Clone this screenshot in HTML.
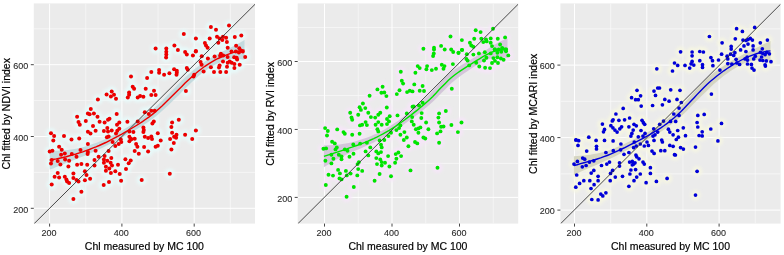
<!DOCTYPE html><html><head><meta charset="utf-8"><title>Chl fitted vs measured</title>
<style>html,body{margin:0;padding:0;background:#fff}svg{display:block}text{font-family:"Liberation Sans",sans-serif;fill:#000}.tk{font-size:9px;fill:#2a2a2a;stroke:#2a2a2a;stroke-width:0.1px}.ti{font-size:10.5px;stroke:#000;stroke-width:0.18px}</style></head><body>
<svg width="784" height="255" viewBox="0 0 784 255">
<rect width="784" height="255" fill="#fff"/>
<defs><filter id="bl" x="-5%" y="-5%" width="110%" height="110%"><feGaussianBlur stdDeviation="1.6"/></filter></defs>
<clipPath id="c0"><rect x="33.8" y="3.4" width="221.2" height="220.2"/></clipPath>
<rect x="33.8" y="3.4" width="221.2" height="220.2" fill="#ebebeb"/>
<g clip-path="url(#c0)">
<path d="M85.75 3.4V223.6M33.8 172.40H255.0" stroke="#f9f9f9" stroke-width="0.7" fill="none"/>
<path d="M158.05 3.4V223.6M33.8 100.60H255.0" stroke="#f9f9f9" stroke-width="0.7" fill="none"/>
<path d="M230.35 3.4V223.6M33.8 28.80H255.0" stroke="#f9f9f9" stroke-width="0.7" fill="none"/>
<path d="M49.60 3.4V223.6M33.8 208.30H255.0" stroke="#fff" stroke-width="1" fill="none"/>
<path d="M121.90 3.4V223.6M33.8 136.50H255.0" stroke="#fff" stroke-width="1" fill="none"/>
<path d="M194.20 3.4V223.6M33.8 64.70H255.0" stroke="#fff" stroke-width="1" fill="none"/>
<g filter="url(#bl)" fill="#e8fbfb" fill-opacity="0.9">
<circle cx="210.9" cy="27.0" r="5.2"/>
<circle cx="229.0" cy="25.4" r="5.2"/>
<circle cx="216.0" cy="29.8" r="5.2"/>
<circle cx="183.8" cy="34.1" r="5.2"/>
<circle cx="195.9" cy="38.5" r="5.2"/>
<circle cx="209.7" cy="38.5" r="5.2"/>
<circle cx="217.0" cy="36.8" r="5.2"/>
<circle cx="219.6" cy="38.4" r="5.2"/>
<circle cx="223.0" cy="36.8" r="5.2"/>
<circle cx="222.3" cy="40.1" r="5.2"/>
<circle cx="226.1" cy="37.8" r="5.2"/>
<circle cx="234.8" cy="37.0" r="5.2"/>
<circle cx="241.3" cy="35.4" r="5.2"/>
<circle cx="218.3" cy="42.8" r="5.2"/>
<circle cx="226.9" cy="42.1" r="5.2"/>
<circle cx="204.9" cy="43.0" r="5.2"/>
<circle cx="206.0" cy="45.5" r="5.2"/>
<circle cx="207.6" cy="47.7" r="5.2"/>
<circle cx="174.4" cy="45.6" r="5.2"/>
<circle cx="155.6" cy="48.5" r="5.2"/>
<circle cx="166.3" cy="48.5" r="5.2"/>
<circle cx="177.9" cy="49.9" r="5.2"/>
<circle cx="227.7" cy="47.7" r="5.2"/>
<circle cx="236.1" cy="45.7" r="5.2"/>
<circle cx="166.3" cy="51.8" r="5.2"/>
<circle cx="166.3" cy="54.4" r="5.2"/>
<circle cx="166.1" cy="57.4" r="5.2"/>
<circle cx="185.1" cy="52.0" r="5.2"/>
<circle cx="186.8" cy="54.4" r="5.2"/>
<circle cx="195.9" cy="51.0" r="5.2"/>
<circle cx="192.9" cy="55.4" r="5.2"/>
<circle cx="200.6" cy="62.1" r="5.2"/>
<circle cx="201.6" cy="64.7" r="5.2"/>
<circle cx="223.0" cy="61.4" r="5.2"/>
<circle cx="237.1" cy="59.4" r="5.2"/>
<circle cx="229.7" cy="61.4" r="5.2"/>
<circle cx="231.7" cy="62.7" r="5.2"/>
<circle cx="234.4" cy="64.1" r="5.2"/>
<circle cx="227.7" cy="62.7" r="5.2"/>
<circle cx="219.6" cy="65.4" r="5.2"/>
<circle cx="219.0" cy="67.4" r="5.2"/>
<circle cx="210.9" cy="67.2" r="5.2"/>
<circle cx="227.0" cy="66.8" r="5.2"/>
<circle cx="234.4" cy="68.1" r="5.2"/>
<circle cx="239.7" cy="64.7" r="5.2"/>
<circle cx="203.6" cy="71.4" r="5.2"/>
<circle cx="214.0" cy="72.1" r="5.2"/>
<circle cx="220.3" cy="72.1" r="5.2"/>
<circle cx="226.1" cy="72.1" r="5.2"/>
<circle cx="186.8" cy="68.1" r="5.2"/>
<circle cx="187.8" cy="69.7" r="5.2"/>
<circle cx="174.1" cy="69.2" r="5.2"/>
<circle cx="176.8" cy="70.8" r="5.2"/>
<circle cx="176.8" cy="72.8" r="5.2"/>
<circle cx="176.5" cy="74.8" r="5.2"/>
<circle cx="159.1" cy="70.1" r="5.2"/>
<circle cx="159.1" cy="72.8" r="5.2"/>
<circle cx="151.3" cy="72.1" r="5.2"/>
<circle cx="164.1" cy="74.8" r="5.2"/>
<circle cx="169.4" cy="73.2" r="5.2"/>
<circle cx="194.2" cy="74.8" r="5.2"/>
<circle cx="193.5" cy="76.4" r="5.2"/>
<circle cx="195.8" cy="51.5" r="5.2"/>
<circle cx="201.7" cy="56.2" r="5.2"/>
<circle cx="239.3" cy="48.3" r="5.2"/>
<circle cx="231.5" cy="51.5" r="5.2"/>
<circle cx="235.8" cy="51.5" r="5.2"/>
<circle cx="238.9" cy="52.6" r="5.2"/>
<circle cx="242.8" cy="51.5" r="5.2"/>
<circle cx="241.3" cy="50.7" r="5.2"/>
<circle cx="220.9" cy="53.8" r="5.2"/>
<circle cx="220.1" cy="55.8" r="5.2"/>
<circle cx="223.2" cy="55.4" r="5.2"/>
<circle cx="214.6" cy="56.5" r="5.2"/>
<circle cx="207.9" cy="58.5" r="5.2"/>
<circle cx="227.6" cy="56.9" r="5.2"/>
<circle cx="234.2" cy="57.3" r="5.2"/>
<circle cx="236.6" cy="57.7" r="5.2"/>
<circle cx="245.2" cy="56.9" r="5.2"/>
<circle cx="154.0" cy="90.7" r="5.2"/>
<circle cx="151.3" cy="95.1" r="5.2"/>
<circle cx="155.6" cy="95.1" r="5.2"/>
<circle cx="185.9" cy="91.0" r="5.2"/>
<circle cx="151.3" cy="110.7" r="5.2"/>
<circle cx="154.7" cy="110.7" r="5.2"/>
<circle cx="153.8" cy="121.4" r="5.2"/>
<circle cx="152.4" cy="123.4" r="5.2"/>
<circle cx="178.8" cy="119.8" r="5.2"/>
<circle cx="172.1" cy="122.5" r="5.2"/>
<circle cx="171.4" cy="127.0" r="5.2"/>
<circle cx="195.9" cy="130.5" r="5.2"/>
<circle cx="157.8" cy="133.2" r="5.2"/>
<circle cx="172.1" cy="132.8" r="5.2"/>
<circle cx="176.5" cy="134.8" r="5.2"/>
<circle cx="174.1" cy="136.8" r="5.2"/>
<circle cx="176.1" cy="137.7" r="5.2"/>
<circle cx="185.1" cy="134.8" r="5.2"/>
<circle cx="151.3" cy="136.4" r="5.2"/>
<circle cx="152.0" cy="139.1" r="5.2"/>
<circle cx="170.1" cy="139.1" r="5.2"/>
<circle cx="192.2" cy="139.1" r="5.2"/>
<circle cx="160.7" cy="140.4" r="5.2"/>
<circle cx="173.8" cy="143.1" r="5.2"/>
<circle cx="155.6" cy="146.7" r="5.2"/>
<circle cx="157.8" cy="145.8" r="5.2"/>
<circle cx="171.4" cy="149.4" r="5.2"/>
<circle cx="169.8" cy="173.8" r="5.2"/>
<circle cx="131.0" cy="76.5" r="5.2"/>
<circle cx="147.1" cy="78.1" r="5.2"/>
<circle cx="132.7" cy="86.7" r="5.2"/>
<circle cx="134.1" cy="88.7" r="5.2"/>
<circle cx="145.7" cy="88.7" r="5.2"/>
<circle cx="111.7" cy="91.4" r="5.2"/>
<circle cx="106.6" cy="94.5" r="5.2"/>
<circle cx="114.0" cy="94.7" r="5.2"/>
<circle cx="110.9" cy="96.5" r="5.2"/>
<circle cx="116.0" cy="98.8" r="5.2"/>
<circle cx="129.1" cy="92.5" r="5.2"/>
<circle cx="129.1" cy="94.7" r="5.2"/>
<circle cx="127.8" cy="97.4" r="5.2"/>
<circle cx="137.7" cy="97.4" r="5.2"/>
<circle cx="140.1" cy="96.1" r="5.2"/>
<circle cx="143.4" cy="96.8" r="5.2"/>
<circle cx="97.9" cy="99.4" r="5.2"/>
<circle cx="90.8" cy="109.1" r="5.2"/>
<circle cx="87.9" cy="113.4" r="5.2"/>
<circle cx="89.6" cy="114.2" r="5.2"/>
<circle cx="93.9" cy="113.4" r="5.2"/>
<circle cx="77.1" cy="116.7" r="5.2"/>
<circle cx="97.5" cy="116.7" r="5.2"/>
<circle cx="116.7" cy="114.0" r="5.2"/>
<circle cx="144.8" cy="112.3" r="5.2"/>
<circle cx="148.8" cy="114.0" r="5.2"/>
<circle cx="85.8" cy="121.1" r="5.2"/>
<circle cx="78.5" cy="122.1" r="5.2"/>
<circle cx="79.8" cy="124.7" r="5.2"/>
<circle cx="99.6" cy="121.8" r="5.2"/>
<circle cx="104.6" cy="122.5" r="5.2"/>
<circle cx="108.0" cy="119.8" r="5.2"/>
<circle cx="109.5" cy="118.7" r="5.2"/>
<circle cx="119.3" cy="122.5" r="5.2"/>
<circle cx="117.0" cy="124.7" r="5.2"/>
<circle cx="127.4" cy="121.7" r="5.2"/>
<circle cx="137.7" cy="121.4" r="5.2"/>
<circle cx="93.0" cy="126.1" r="5.2"/>
<circle cx="95.6" cy="130.8" r="5.2"/>
<circle cx="87.9" cy="131.8" r="5.2"/>
<circle cx="90.5" cy="133.4" r="5.2"/>
<circle cx="107.3" cy="128.1" r="5.2"/>
<circle cx="103.9" cy="131.0" r="5.2"/>
<circle cx="108.0" cy="131.4" r="5.2"/>
<circle cx="111.7" cy="130.5" r="5.2"/>
<circle cx="119.3" cy="128.8" r="5.2"/>
<circle cx="117.3" cy="130.8" r="5.2"/>
<circle cx="116.0" cy="133.4" r="5.2"/>
<circle cx="143.4" cy="127.4" r="5.2"/>
<circle cx="143.8" cy="130.1" r="5.2"/>
<circle cx="143.4" cy="132.1" r="5.2"/>
<circle cx="133.4" cy="132.1" r="5.2"/>
<circle cx="129.4" cy="131.4" r="5.2"/>
<circle cx="51.0" cy="133.2" r="5.2"/>
<circle cx="54.1" cy="136.1" r="5.2"/>
<circle cx="64.0" cy="136.1" r="5.2"/>
<circle cx="71.5" cy="139.5" r="5.2"/>
<circle cx="79.2" cy="138.5" r="5.2"/>
<circle cx="106.9" cy="137.2" r="5.2"/>
<circle cx="108.6" cy="136.4" r="5.2"/>
<circle cx="129.4" cy="136.8" r="5.2"/>
<circle cx="130.7" cy="138.8" r="5.2"/>
<circle cx="134.7" cy="138.8" r="5.2"/>
<circle cx="144.8" cy="136.8" r="5.2"/>
<circle cx="148.1" cy="138.1" r="5.2"/>
<circle cx="53.3" cy="140.4" r="5.2"/>
<circle cx="87.9" cy="144.0" r="5.2"/>
<circle cx="59.1" cy="146.7" r="5.2"/>
<circle cx="61.7" cy="149.8" r="5.2"/>
<circle cx="49.7" cy="151.4" r="5.2"/>
<circle cx="52.4" cy="150.7" r="5.2"/>
<circle cx="61.1" cy="154.7" r="5.2"/>
<circle cx="64.8" cy="153.4" r="5.2"/>
<circle cx="71.8" cy="154.1" r="5.2"/>
<circle cx="76.5" cy="156.8" r="5.2"/>
<circle cx="80.5" cy="150.1" r="5.2"/>
<circle cx="87.9" cy="152.1" r="5.2"/>
<circle cx="87.6" cy="154.1" r="5.2"/>
<circle cx="95.6" cy="150.7" r="5.2"/>
<circle cx="112.6" cy="142.0" r="5.2"/>
<circle cx="115.3" cy="146.0" r="5.2"/>
<circle cx="118.7" cy="144.0" r="5.2"/>
<circle cx="121.3" cy="142.0" r="5.2"/>
<circle cx="120.7" cy="139.3" r="5.2"/>
<circle cx="108.6" cy="151.1" r="5.2"/>
<circle cx="129.4" cy="141.3" r="5.2"/>
<circle cx="131.4" cy="139.3" r="5.2"/>
<circle cx="136.1" cy="144.0" r="5.2"/>
<circle cx="137.4" cy="146.7" r="5.2"/>
<circle cx="144.1" cy="147.1" r="5.2"/>
<circle cx="134.7" cy="151.1" r="5.2"/>
<circle cx="138.8" cy="153.8" r="5.2"/>
<circle cx="148.1" cy="151.4" r="5.2"/>
<circle cx="98.6" cy="156.8" r="5.2"/>
<circle cx="104.6" cy="156.1" r="5.2"/>
<circle cx="94.5" cy="160.1" r="5.2"/>
<circle cx="103.9" cy="159.4" r="5.2"/>
<circle cx="107.3" cy="160.8" r="5.2"/>
<circle cx="111.3" cy="158.1" r="5.2"/>
<circle cx="110.6" cy="162.8" r="5.2"/>
<circle cx="103.9" cy="162.8" r="5.2"/>
<circle cx="125.4" cy="159.2" r="5.2"/>
<circle cx="130.7" cy="160.5" r="5.2"/>
<circle cx="128.7" cy="163.2" r="5.2"/>
<circle cx="51.7" cy="160.1" r="5.2"/>
<circle cx="51.0" cy="163.4" r="5.2"/>
<circle cx="57.7" cy="161.0" r="5.2"/>
<circle cx="60.4" cy="164.5" r="5.2"/>
<circle cx="65.1" cy="159.4" r="5.2"/>
<circle cx="69.1" cy="160.8" r="5.2"/>
<circle cx="68.4" cy="166.4" r="5.2"/>
<circle cx="77.1" cy="164.8" r="5.2"/>
<circle cx="81.4" cy="164.1" r="5.2"/>
<circle cx="87.2" cy="164.8" r="5.2"/>
<circle cx="94.5" cy="165.5" r="5.2"/>
<circle cx="118.0" cy="164.8" r="5.2"/>
<circle cx="105.9" cy="166.8" r="5.2"/>
<circle cx="109.3" cy="168.5" r="5.2"/>
<circle cx="112.0" cy="165.5" r="5.2"/>
<circle cx="126.0" cy="169.1" r="5.2"/>
<circle cx="57.7" cy="173.1" r="5.2"/>
<circle cx="54.6" cy="176.7" r="5.2"/>
<circle cx="59.1" cy="177.4" r="5.2"/>
<circle cx="51.7" cy="184.5" r="5.2"/>
<circle cx="64.8" cy="176.7" r="5.2"/>
<circle cx="66.4" cy="179.4" r="5.2"/>
<circle cx="67.1" cy="181.4" r="5.2"/>
<circle cx="69.1" cy="183.0" r="5.2"/>
<circle cx="73.4" cy="173.6" r="5.2"/>
<circle cx="73.4" cy="178.0" r="5.2"/>
<circle cx="76.5" cy="180.1" r="5.2"/>
<circle cx="78.5" cy="181.4" r="5.2"/>
<circle cx="84.9" cy="171.3" r="5.2"/>
<circle cx="86.5" cy="175.0" r="5.2"/>
<circle cx="84.9" cy="180.3" r="5.2"/>
<circle cx="90.1" cy="178.7" r="5.2"/>
<circle cx="105.9" cy="170.7" r="5.2"/>
<circle cx="110.9" cy="173.1" r="5.2"/>
<circle cx="115.3" cy="171.3" r="5.2"/>
<circle cx="119.7" cy="174.0" r="5.2"/>
<circle cx="121.1" cy="180.7" r="5.2"/>
<circle cx="109.0" cy="182.1" r="5.2"/>
<circle cx="103.7" cy="185.1" r="5.2"/>
<circle cx="141.7" cy="180.1" r="5.2"/>
<circle cx="81.4" cy="191.8" r="5.2"/>
<circle cx="73.4" cy="199.1" r="5.2"/>
</g>
<polygon points="49.7,150.7 53.0,150.7 56.3,150.7 59.6,150.6 62.9,150.5 66.2,150.3 69.5,149.8 72.8,149.3 76.1,148.7 79.4,148.1 82.7,147.2 86.0,146.2 89.3,145.2 92.6,144.1 95.9,143.0 99.2,141.7 102.5,140.3 105.8,138.8 109.1,137.2 112.4,135.6 115.7,133.9 119.0,132.1 122.3,130.2 125.6,128.3 128.9,126.3 132.2,124.2 135.5,122.1 138.8,120.0 142.1,117.7 145.4,115.3 148.8,112.7 152.1,110.0 155.4,107.1 158.7,104.1 162.0,100.9 165.3,97.6 168.6,94.2 171.9,90.8 175.2,87.4 178.5,83.9 181.8,80.6 185.1,77.5 188.4,74.5 191.7,71.6 195.0,68.8 198.3,66.2 201.6,63.7 204.9,61.5 208.2,59.4 211.5,57.5 214.8,55.7 218.1,53.8 221.4,52.1 224.7,50.5 228.0,49.1 231.3,47.2 234.6,45.5 237.9,43.8 241.2,41.9 244.5,40.1 244.5,59.8 241.2,59.2 237.9,58.8 234.6,58.9 231.3,59.1 228.0,59.5 224.7,60.6 221.4,61.8 218.1,63.2 214.8,64.7 211.5,66.7 208.2,68.8 204.9,71.2 201.6,73.6 198.3,76.3 195.0,79.2 191.7,82.3 188.4,85.4 185.1,88.7 181.8,92.1 178.5,95.4 175.2,98.6 171.9,101.8 168.6,104.9 165.3,108.0 162.0,111.0 158.7,113.9 155.4,116.7 152.1,119.2 148.8,121.6 145.4,123.8 142.1,125.9 138.8,127.9 135.5,129.9 132.2,131.8 128.9,133.7 125.6,135.6 122.3,137.4 119.0,139.2 115.7,141.0 112.4,142.7 109.1,144.4 105.8,146.1 102.5,147.7 99.2,149.2 95.9,150.8 92.6,152.3 89.3,153.8 86.0,155.2 82.7,156.5 79.4,157.8 76.1,159.2 72.8,160.5 69.5,161.8 66.2,163.0 62.9,164.4 59.6,165.7 56.3,167.1 53.0,168.4 49.7,169.6" fill="#bdd6db" fill-opacity="0.85"/>
<circle cx="210.9" cy="27.0" r="2.0" fill="#ec0000"/>
<circle cx="229.0" cy="25.4" r="2.0" fill="#ec0000"/>
<circle cx="216.0" cy="29.8" r="2.0" fill="#ec0000"/>
<circle cx="183.8" cy="34.1" r="2.0" fill="#ec0000"/>
<circle cx="195.9" cy="38.5" r="2.0" fill="#ec0000"/>
<circle cx="209.7" cy="38.5" r="2.0" fill="#ec0000"/>
<circle cx="217.0" cy="36.8" r="2.0" fill="#ec0000"/>
<circle cx="219.6" cy="38.4" r="2.0" fill="#ec0000"/>
<circle cx="223.0" cy="36.8" r="2.0" fill="#ec0000"/>
<circle cx="222.3" cy="40.1" r="2.0" fill="#ec0000"/>
<circle cx="226.1" cy="37.8" r="2.0" fill="#ec0000"/>
<circle cx="234.8" cy="37.0" r="2.0" fill="#ec0000"/>
<circle cx="241.3" cy="35.4" r="2.0" fill="#ec0000"/>
<circle cx="218.3" cy="42.8" r="2.0" fill="#ec0000"/>
<circle cx="226.9" cy="42.1" r="2.0" fill="#ec0000"/>
<circle cx="204.9" cy="43.0" r="2.0" fill="#ec0000"/>
<circle cx="206.0" cy="45.5" r="2.0" fill="#ec0000"/>
<circle cx="207.6" cy="47.7" r="2.0" fill="#ec0000"/>
<circle cx="174.4" cy="45.6" r="2.0" fill="#ec0000"/>
<circle cx="155.6" cy="48.5" r="2.0" fill="#ec0000"/>
<circle cx="166.3" cy="48.5" r="2.0" fill="#ec0000"/>
<circle cx="177.9" cy="49.9" r="2.0" fill="#ec0000"/>
<circle cx="227.7" cy="47.7" r="2.0" fill="#ec0000"/>
<circle cx="236.1" cy="45.7" r="2.0" fill="#ec0000"/>
<circle cx="166.3" cy="51.8" r="2.0" fill="#ec0000"/>
<circle cx="166.3" cy="54.4" r="2.0" fill="#ec0000"/>
<circle cx="166.1" cy="57.4" r="2.0" fill="#ec0000"/>
<circle cx="185.1" cy="52.0" r="2.0" fill="#ec0000"/>
<circle cx="186.8" cy="54.4" r="2.0" fill="#ec0000"/>
<circle cx="195.9" cy="51.0" r="2.0" fill="#ec0000"/>
<circle cx="192.9" cy="55.4" r="2.0" fill="#ec0000"/>
<circle cx="200.6" cy="62.1" r="2.0" fill="#ec0000"/>
<circle cx="201.6" cy="64.7" r="2.0" fill="#ec0000"/>
<circle cx="223.0" cy="61.4" r="2.0" fill="#ec0000"/>
<circle cx="237.1" cy="59.4" r="2.0" fill="#ec0000"/>
<circle cx="229.7" cy="61.4" r="2.0" fill="#ec0000"/>
<circle cx="231.7" cy="62.7" r="2.0" fill="#ec0000"/>
<circle cx="234.4" cy="64.1" r="2.0" fill="#ec0000"/>
<circle cx="227.7" cy="62.7" r="2.0" fill="#ec0000"/>
<circle cx="219.6" cy="65.4" r="2.0" fill="#ec0000"/>
<circle cx="219.0" cy="67.4" r="2.0" fill="#ec0000"/>
<circle cx="210.9" cy="67.2" r="2.0" fill="#ec0000"/>
<circle cx="227.0" cy="66.8" r="2.0" fill="#ec0000"/>
<circle cx="234.4" cy="68.1" r="2.0" fill="#ec0000"/>
<circle cx="239.7" cy="64.7" r="2.0" fill="#ec0000"/>
<circle cx="203.6" cy="71.4" r="2.0" fill="#ec0000"/>
<circle cx="214.0" cy="72.1" r="2.0" fill="#ec0000"/>
<circle cx="220.3" cy="72.1" r="2.0" fill="#ec0000"/>
<circle cx="226.1" cy="72.1" r="2.0" fill="#ec0000"/>
<circle cx="186.8" cy="68.1" r="2.0" fill="#ec0000"/>
<circle cx="187.8" cy="69.7" r="2.0" fill="#ec0000"/>
<circle cx="174.1" cy="69.2" r="2.0" fill="#ec0000"/>
<circle cx="176.8" cy="70.8" r="2.0" fill="#ec0000"/>
<circle cx="176.8" cy="72.8" r="2.0" fill="#ec0000"/>
<circle cx="176.5" cy="74.8" r="2.0" fill="#ec0000"/>
<circle cx="159.1" cy="70.1" r="2.0" fill="#ec0000"/>
<circle cx="159.1" cy="72.8" r="2.0" fill="#ec0000"/>
<circle cx="151.3" cy="72.1" r="2.0" fill="#ec0000"/>
<circle cx="164.1" cy="74.8" r="2.0" fill="#ec0000"/>
<circle cx="169.4" cy="73.2" r="2.0" fill="#ec0000"/>
<circle cx="194.2" cy="74.8" r="2.0" fill="#ec0000"/>
<circle cx="193.5" cy="76.4" r="2.0" fill="#ec0000"/>
<circle cx="195.8" cy="51.5" r="2.0" fill="#ec0000"/>
<circle cx="201.7" cy="56.2" r="2.0" fill="#ec0000"/>
<circle cx="239.3" cy="48.3" r="2.0" fill="#ec0000"/>
<circle cx="231.5" cy="51.5" r="2.0" fill="#ec0000"/>
<circle cx="235.8" cy="51.5" r="2.0" fill="#ec0000"/>
<circle cx="238.9" cy="52.6" r="2.0" fill="#ec0000"/>
<circle cx="242.8" cy="51.5" r="2.0" fill="#ec0000"/>
<circle cx="241.3" cy="50.7" r="2.0" fill="#ec0000"/>
<circle cx="220.9" cy="53.8" r="2.0" fill="#ec0000"/>
<circle cx="220.1" cy="55.8" r="2.0" fill="#ec0000"/>
<circle cx="223.2" cy="55.4" r="2.0" fill="#ec0000"/>
<circle cx="214.6" cy="56.5" r="2.0" fill="#ec0000"/>
<circle cx="207.9" cy="58.5" r="2.0" fill="#ec0000"/>
<circle cx="227.6" cy="56.9" r="2.0" fill="#ec0000"/>
<circle cx="234.2" cy="57.3" r="2.0" fill="#ec0000"/>
<circle cx="236.6" cy="57.7" r="2.0" fill="#ec0000"/>
<circle cx="245.2" cy="56.9" r="2.0" fill="#ec0000"/>
<circle cx="154.0" cy="90.7" r="2.0" fill="#ec0000"/>
<circle cx="151.3" cy="95.1" r="2.0" fill="#ec0000"/>
<circle cx="155.6" cy="95.1" r="2.0" fill="#ec0000"/>
<circle cx="185.9" cy="91.0" r="2.0" fill="#ec0000"/>
<circle cx="151.3" cy="110.7" r="2.0" fill="#ec0000"/>
<circle cx="154.7" cy="110.7" r="2.0" fill="#ec0000"/>
<circle cx="153.8" cy="121.4" r="2.0" fill="#ec0000"/>
<circle cx="152.4" cy="123.4" r="2.0" fill="#ec0000"/>
<circle cx="178.8" cy="119.8" r="2.0" fill="#ec0000"/>
<circle cx="172.1" cy="122.5" r="2.0" fill="#ec0000"/>
<circle cx="171.4" cy="127.0" r="2.0" fill="#ec0000"/>
<circle cx="195.9" cy="130.5" r="2.0" fill="#ec0000"/>
<circle cx="157.8" cy="133.2" r="2.0" fill="#ec0000"/>
<circle cx="172.1" cy="132.8" r="2.0" fill="#ec0000"/>
<circle cx="176.5" cy="134.8" r="2.0" fill="#ec0000"/>
<circle cx="174.1" cy="136.8" r="2.0" fill="#ec0000"/>
<circle cx="176.1" cy="137.7" r="2.0" fill="#ec0000"/>
<circle cx="185.1" cy="134.8" r="2.0" fill="#ec0000"/>
<circle cx="151.3" cy="136.4" r="2.0" fill="#ec0000"/>
<circle cx="152.0" cy="139.1" r="2.0" fill="#ec0000"/>
<circle cx="170.1" cy="139.1" r="2.0" fill="#ec0000"/>
<circle cx="192.2" cy="139.1" r="2.0" fill="#ec0000"/>
<circle cx="160.7" cy="140.4" r="2.0" fill="#ec0000"/>
<circle cx="173.8" cy="143.1" r="2.0" fill="#ec0000"/>
<circle cx="155.6" cy="146.7" r="2.0" fill="#ec0000"/>
<circle cx="157.8" cy="145.8" r="2.0" fill="#ec0000"/>
<circle cx="171.4" cy="149.4" r="2.0" fill="#ec0000"/>
<circle cx="169.8" cy="173.8" r="2.0" fill="#ec0000"/>
<circle cx="131.0" cy="76.5" r="2.0" fill="#ec0000"/>
<circle cx="147.1" cy="78.1" r="2.0" fill="#ec0000"/>
<circle cx="132.7" cy="86.7" r="2.0" fill="#ec0000"/>
<circle cx="134.1" cy="88.7" r="2.0" fill="#ec0000"/>
<circle cx="145.7" cy="88.7" r="2.0" fill="#ec0000"/>
<circle cx="111.7" cy="91.4" r="2.0" fill="#ec0000"/>
<circle cx="106.6" cy="94.5" r="2.0" fill="#ec0000"/>
<circle cx="114.0" cy="94.7" r="2.0" fill="#ec0000"/>
<circle cx="110.9" cy="96.5" r="2.0" fill="#ec0000"/>
<circle cx="116.0" cy="98.8" r="2.0" fill="#ec0000"/>
<circle cx="129.1" cy="92.5" r="2.0" fill="#ec0000"/>
<circle cx="129.1" cy="94.7" r="2.0" fill="#ec0000"/>
<circle cx="127.8" cy="97.4" r="2.0" fill="#ec0000"/>
<circle cx="137.7" cy="97.4" r="2.0" fill="#ec0000"/>
<circle cx="140.1" cy="96.1" r="2.0" fill="#ec0000"/>
<circle cx="143.4" cy="96.8" r="2.0" fill="#ec0000"/>
<circle cx="97.9" cy="99.4" r="2.0" fill="#ec0000"/>
<circle cx="90.8" cy="109.1" r="2.0" fill="#ec0000"/>
<circle cx="87.9" cy="113.4" r="2.0" fill="#ec0000"/>
<circle cx="89.6" cy="114.2" r="2.0" fill="#ec0000"/>
<circle cx="93.9" cy="113.4" r="2.0" fill="#ec0000"/>
<circle cx="77.1" cy="116.7" r="2.0" fill="#ec0000"/>
<circle cx="97.5" cy="116.7" r="2.0" fill="#ec0000"/>
<circle cx="116.7" cy="114.0" r="2.0" fill="#ec0000"/>
<circle cx="144.8" cy="112.3" r="2.0" fill="#ec0000"/>
<circle cx="148.8" cy="114.0" r="2.0" fill="#ec0000"/>
<circle cx="85.8" cy="121.1" r="2.0" fill="#ec0000"/>
<circle cx="78.5" cy="122.1" r="2.0" fill="#ec0000"/>
<circle cx="79.8" cy="124.7" r="2.0" fill="#ec0000"/>
<circle cx="99.6" cy="121.8" r="2.0" fill="#ec0000"/>
<circle cx="104.6" cy="122.5" r="2.0" fill="#ec0000"/>
<circle cx="108.0" cy="119.8" r="2.0" fill="#ec0000"/>
<circle cx="109.5" cy="118.7" r="2.0" fill="#ec0000"/>
<circle cx="119.3" cy="122.5" r="2.0" fill="#ec0000"/>
<circle cx="117.0" cy="124.7" r="2.0" fill="#ec0000"/>
<circle cx="127.4" cy="121.7" r="2.0" fill="#ec0000"/>
<circle cx="137.7" cy="121.4" r="2.0" fill="#ec0000"/>
<circle cx="93.0" cy="126.1" r="2.0" fill="#ec0000"/>
<circle cx="95.6" cy="130.8" r="2.0" fill="#ec0000"/>
<circle cx="87.9" cy="131.8" r="2.0" fill="#ec0000"/>
<circle cx="90.5" cy="133.4" r="2.0" fill="#ec0000"/>
<circle cx="107.3" cy="128.1" r="2.0" fill="#ec0000"/>
<circle cx="103.9" cy="131.0" r="2.0" fill="#ec0000"/>
<circle cx="108.0" cy="131.4" r="2.0" fill="#ec0000"/>
<circle cx="111.7" cy="130.5" r="2.0" fill="#ec0000"/>
<circle cx="119.3" cy="128.8" r="2.0" fill="#ec0000"/>
<circle cx="117.3" cy="130.8" r="2.0" fill="#ec0000"/>
<circle cx="116.0" cy="133.4" r="2.0" fill="#ec0000"/>
<circle cx="143.4" cy="127.4" r="2.0" fill="#ec0000"/>
<circle cx="143.8" cy="130.1" r="2.0" fill="#ec0000"/>
<circle cx="143.4" cy="132.1" r="2.0" fill="#ec0000"/>
<circle cx="133.4" cy="132.1" r="2.0" fill="#ec0000"/>
<circle cx="129.4" cy="131.4" r="2.0" fill="#ec0000"/>
<circle cx="51.0" cy="133.2" r="2.0" fill="#ec0000"/>
<circle cx="54.1" cy="136.1" r="2.0" fill="#ec0000"/>
<circle cx="64.0" cy="136.1" r="2.0" fill="#ec0000"/>
<circle cx="71.5" cy="139.5" r="2.0" fill="#ec0000"/>
<circle cx="79.2" cy="138.5" r="2.0" fill="#ec0000"/>
<circle cx="106.9" cy="137.2" r="2.0" fill="#ec0000"/>
<circle cx="108.6" cy="136.4" r="2.0" fill="#ec0000"/>
<circle cx="129.4" cy="136.8" r="2.0" fill="#ec0000"/>
<circle cx="130.7" cy="138.8" r="2.0" fill="#ec0000"/>
<circle cx="134.7" cy="138.8" r="2.0" fill="#ec0000"/>
<circle cx="144.8" cy="136.8" r="2.0" fill="#ec0000"/>
<circle cx="148.1" cy="138.1" r="2.0" fill="#ec0000"/>
<circle cx="53.3" cy="140.4" r="2.0" fill="#ec0000"/>
<circle cx="87.9" cy="144.0" r="2.0" fill="#ec0000"/>
<circle cx="59.1" cy="146.7" r="2.0" fill="#ec0000"/>
<circle cx="61.7" cy="149.8" r="2.0" fill="#ec0000"/>
<circle cx="49.7" cy="151.4" r="2.0" fill="#ec0000"/>
<circle cx="52.4" cy="150.7" r="2.0" fill="#ec0000"/>
<circle cx="61.1" cy="154.7" r="2.0" fill="#ec0000"/>
<circle cx="64.8" cy="153.4" r="2.0" fill="#ec0000"/>
<circle cx="71.8" cy="154.1" r="2.0" fill="#ec0000"/>
<circle cx="76.5" cy="156.8" r="2.0" fill="#ec0000"/>
<circle cx="80.5" cy="150.1" r="2.0" fill="#ec0000"/>
<circle cx="87.9" cy="152.1" r="2.0" fill="#ec0000"/>
<circle cx="87.6" cy="154.1" r="2.0" fill="#ec0000"/>
<circle cx="95.6" cy="150.7" r="2.0" fill="#ec0000"/>
<circle cx="112.6" cy="142.0" r="2.0" fill="#ec0000"/>
<circle cx="115.3" cy="146.0" r="2.0" fill="#ec0000"/>
<circle cx="118.7" cy="144.0" r="2.0" fill="#ec0000"/>
<circle cx="121.3" cy="142.0" r="2.0" fill="#ec0000"/>
<circle cx="120.7" cy="139.3" r="2.0" fill="#ec0000"/>
<circle cx="108.6" cy="151.1" r="2.0" fill="#ec0000"/>
<circle cx="129.4" cy="141.3" r="2.0" fill="#ec0000"/>
<circle cx="131.4" cy="139.3" r="2.0" fill="#ec0000"/>
<circle cx="136.1" cy="144.0" r="2.0" fill="#ec0000"/>
<circle cx="137.4" cy="146.7" r="2.0" fill="#ec0000"/>
<circle cx="144.1" cy="147.1" r="2.0" fill="#ec0000"/>
<circle cx="134.7" cy="151.1" r="2.0" fill="#ec0000"/>
<circle cx="138.8" cy="153.8" r="2.0" fill="#ec0000"/>
<circle cx="148.1" cy="151.4" r="2.0" fill="#ec0000"/>
<circle cx="98.6" cy="156.8" r="2.0" fill="#ec0000"/>
<circle cx="104.6" cy="156.1" r="2.0" fill="#ec0000"/>
<circle cx="94.5" cy="160.1" r="2.0" fill="#ec0000"/>
<circle cx="103.9" cy="159.4" r="2.0" fill="#ec0000"/>
<circle cx="107.3" cy="160.8" r="2.0" fill="#ec0000"/>
<circle cx="111.3" cy="158.1" r="2.0" fill="#ec0000"/>
<circle cx="110.6" cy="162.8" r="2.0" fill="#ec0000"/>
<circle cx="103.9" cy="162.8" r="2.0" fill="#ec0000"/>
<circle cx="125.4" cy="159.2" r="2.0" fill="#ec0000"/>
<circle cx="130.7" cy="160.5" r="2.0" fill="#ec0000"/>
<circle cx="128.7" cy="163.2" r="2.0" fill="#ec0000"/>
<circle cx="51.7" cy="160.1" r="2.0" fill="#ec0000"/>
<circle cx="51.0" cy="163.4" r="2.0" fill="#ec0000"/>
<circle cx="57.7" cy="161.0" r="2.0" fill="#ec0000"/>
<circle cx="60.4" cy="164.5" r="2.0" fill="#ec0000"/>
<circle cx="65.1" cy="159.4" r="2.0" fill="#ec0000"/>
<circle cx="69.1" cy="160.8" r="2.0" fill="#ec0000"/>
<circle cx="68.4" cy="166.4" r="2.0" fill="#ec0000"/>
<circle cx="77.1" cy="164.8" r="2.0" fill="#ec0000"/>
<circle cx="81.4" cy="164.1" r="2.0" fill="#ec0000"/>
<circle cx="87.2" cy="164.8" r="2.0" fill="#ec0000"/>
<circle cx="94.5" cy="165.5" r="2.0" fill="#ec0000"/>
<circle cx="118.0" cy="164.8" r="2.0" fill="#ec0000"/>
<circle cx="105.9" cy="166.8" r="2.0" fill="#ec0000"/>
<circle cx="109.3" cy="168.5" r="2.0" fill="#ec0000"/>
<circle cx="112.0" cy="165.5" r="2.0" fill="#ec0000"/>
<circle cx="126.0" cy="169.1" r="2.0" fill="#ec0000"/>
<circle cx="57.7" cy="173.1" r="2.0" fill="#ec0000"/>
<circle cx="54.6" cy="176.7" r="2.0" fill="#ec0000"/>
<circle cx="59.1" cy="177.4" r="2.0" fill="#ec0000"/>
<circle cx="51.7" cy="184.5" r="2.0" fill="#ec0000"/>
<circle cx="64.8" cy="176.7" r="2.0" fill="#ec0000"/>
<circle cx="66.4" cy="179.4" r="2.0" fill="#ec0000"/>
<circle cx="67.1" cy="181.4" r="2.0" fill="#ec0000"/>
<circle cx="69.1" cy="183.0" r="2.0" fill="#ec0000"/>
<circle cx="73.4" cy="173.6" r="2.0" fill="#ec0000"/>
<circle cx="73.4" cy="178.0" r="2.0" fill="#ec0000"/>
<circle cx="76.5" cy="180.1" r="2.0" fill="#ec0000"/>
<circle cx="78.5" cy="181.4" r="2.0" fill="#ec0000"/>
<circle cx="84.9" cy="171.3" r="2.0" fill="#ec0000"/>
<circle cx="86.5" cy="175.0" r="2.0" fill="#ec0000"/>
<circle cx="84.9" cy="180.3" r="2.0" fill="#ec0000"/>
<circle cx="90.1" cy="178.7" r="2.0" fill="#ec0000"/>
<circle cx="105.9" cy="170.7" r="2.0" fill="#ec0000"/>
<circle cx="110.9" cy="173.1" r="2.0" fill="#ec0000"/>
<circle cx="115.3" cy="171.3" r="2.0" fill="#ec0000"/>
<circle cx="119.7" cy="174.0" r="2.0" fill="#ec0000"/>
<circle cx="121.1" cy="180.7" r="2.0" fill="#ec0000"/>
<circle cx="109.0" cy="182.1" r="2.0" fill="#ec0000"/>
<circle cx="103.7" cy="185.1" r="2.0" fill="#ec0000"/>
<circle cx="141.7" cy="180.1" r="2.0" fill="#ec0000"/>
<circle cx="81.4" cy="191.8" r="2.0" fill="#ec0000"/>
<circle cx="73.4" cy="199.1" r="2.0" fill="#ec0000"/>
<line x1="33.8" y1="223.99" x2="255.0" y2="4.32" stroke="#2a2a2a" stroke-width="0.85"/>
<polyline points="49.7,160.1 53.0,159.5 56.3,158.9 59.6,158.2 62.9,157.5 66.2,156.7 69.5,155.8 72.8,154.9 76.1,154.0 79.4,152.9 82.7,151.9 86.0,150.7 89.3,149.5 92.6,148.2 95.9,146.9 99.2,145.5 102.5,144.0 105.8,142.5 109.1,140.8 112.4,139.2 115.7,137.4 119.0,135.6 122.3,133.8 125.6,131.9 128.9,130.0 132.2,128.0 135.5,126.0 138.8,124.0 142.1,121.8 145.4,119.5 148.8,117.2 152.1,114.6 155.4,111.9 158.7,109.0 162.0,106.0 165.3,102.8 168.6,99.6 171.9,96.3 175.2,93.0 178.5,89.7 181.8,86.4 185.1,83.1 188.4,80.0 191.7,76.9 195.0,74.0 198.3,71.3 201.6,68.7 204.9,66.3 208.2,64.1 211.5,62.1 214.8,60.2 218.1,58.5 221.4,57.0 224.7,55.6 228.0,54.3 231.3,53.2 234.6,52.2 237.9,51.3 241.2,50.6 244.5,49.9" fill="none" stroke="#ec0000" stroke-width="1.4"/>
</g>
<path d="M49.60 223.6v3M33.8 208.30h-3" stroke="#333" stroke-width="0.9" fill="none"/>
<text class="tk" x="49.00" y="236.2" text-anchor="middle">200</text>
<text class="tk" x="28.299999999999997" y="212.60" text-anchor="end">200</text>
<path d="M121.90 223.6v3M33.8 136.50h-3" stroke="#333" stroke-width="0.9" fill="none"/>
<text class="tk" x="121.30" y="236.2" text-anchor="middle">400</text>
<text class="tk" x="28.299999999999997" y="140.80" text-anchor="end">400</text>
<path d="M194.20 223.6v3M33.8 64.70h-3" stroke="#333" stroke-width="0.9" fill="none"/>
<text class="tk" x="193.60" y="236.2" text-anchor="middle">600</text>
<text class="tk" x="28.299999999999997" y="69.00" text-anchor="end">600</text>
<text class="ti" x="144.40" y="249.7" text-anchor="middle">Chl measured by MC 100</text>
<text class="ti" transform="translate(9.60 113.80) rotate(-90)" text-anchor="middle">Chl fitted by NDVI index</text>
<clipPath id="c1"><rect x="297.7" y="3.4" width="220.50000000000006" height="220.2"/></clipPath>
<rect x="297.7" y="3.4" width="220.50000000000006" height="220.2" fill="#ebebeb"/>
<g clip-path="url(#c1)">
<path d="M358.25 3.4V223.6M297.7 163.43H518.2" stroke="#f9f9f9" stroke-width="0.7" fill="none"/>
<path d="M425.75 3.4V223.6M297.7 95.48H518.2" stroke="#f9f9f9" stroke-width="0.7" fill="none"/>
<path d="M493.25 3.4V223.6M297.7 27.53H518.2" stroke="#f9f9f9" stroke-width="0.7" fill="none"/>
<path d="M324.50 3.4V223.6M297.7 197.40H518.2" stroke="#fff" stroke-width="1" fill="none"/>
<path d="M392.00 3.4V223.6M297.7 129.45H518.2" stroke="#fff" stroke-width="1" fill="none"/>
<path d="M459.50 3.4V223.6M297.7 61.50H518.2" stroke="#fff" stroke-width="1" fill="none"/>
<g filter="url(#bl)" fill="#f6e6f8" fill-opacity="0.9">
<circle cx="493.0" cy="28.7" r="5.2"/>
<circle cx="475.7" cy="30.3" r="5.2"/>
<circle cx="480.6" cy="32.1" r="5.2"/>
<circle cx="450.5" cy="36.5" r="5.2"/>
<circle cx="461.9" cy="40.1" r="5.2"/>
<circle cx="474.2" cy="38.8" r="5.2"/>
<circle cx="481.3" cy="38.8" r="5.2"/>
<circle cx="483.3" cy="42.1" r="5.2"/>
<circle cx="486.0" cy="39.4" r="5.2"/>
<circle cx="486.7" cy="41.4" r="5.2"/>
<circle cx="490.7" cy="38.4" r="5.2"/>
<circle cx="497.8" cy="38.8" r="5.2"/>
<circle cx="505.1" cy="37.4" r="5.2"/>
<circle cx="469.9" cy="42.8" r="5.2"/>
<circle cx="471.3" cy="45.5" r="5.2"/>
<circle cx="490.7" cy="42.8" r="5.2"/>
<circle cx="492.0" cy="46.1" r="5.2"/>
<circle cx="500.1" cy="44.5" r="5.2"/>
<circle cx="441.1" cy="45.9" r="5.2"/>
<circle cx="423.4" cy="48.8" r="5.2"/>
<circle cx="434.0" cy="47.7" r="5.2"/>
<circle cx="444.7" cy="49.5" r="5.2"/>
<circle cx="451.2" cy="49.5" r="5.2"/>
<circle cx="461.9" cy="49.9" r="5.2"/>
<circle cx="473.3" cy="46.8" r="5.2"/>
<circle cx="494.7" cy="49.5" r="5.2"/>
<circle cx="498.7" cy="49.5" r="5.2"/>
<circle cx="502.7" cy="48.8" r="5.2"/>
<circle cx="506.1" cy="49.5" r="5.2"/>
<circle cx="434.0" cy="49.6" r="5.2"/>
<circle cx="433.8" cy="53.4" r="5.2"/>
<circle cx="433.1" cy="56.0" r="5.2"/>
<circle cx="453.2" cy="52.0" r="5.2"/>
<circle cx="458.5" cy="53.1" r="5.2"/>
<circle cx="417.7" cy="66.1" r="5.2"/>
<circle cx="419.7" cy="68.1" r="5.2"/>
<circle cx="415.4" cy="72.8" r="5.2"/>
<circle cx="427.1" cy="66.1" r="5.2"/>
<circle cx="426.4" cy="69.2" r="5.2"/>
<circle cx="431.8" cy="70.1" r="5.2"/>
<circle cx="436.0" cy="68.8" r="5.2"/>
<circle cx="441.8" cy="64.7" r="5.2"/>
<circle cx="444.5" cy="66.1" r="5.2"/>
<circle cx="443.5" cy="68.8" r="5.2"/>
<circle cx="452.9" cy="64.1" r="5.2"/>
<circle cx="469.2" cy="65.4" r="5.2"/>
<circle cx="479.3" cy="66.5" r="5.2"/>
<circle cx="485.1" cy="67.8" r="5.2"/>
<circle cx="490.0" cy="68.1" r="5.2"/>
<circle cx="492.0" cy="63.0" r="5.2"/>
<circle cx="498.0" cy="63.0" r="5.2"/>
<circle cx="458.5" cy="52.6" r="5.2"/>
<circle cx="462.1" cy="49.9" r="5.2"/>
<circle cx="466.8" cy="54.2" r="5.2"/>
<circle cx="466.4" cy="58.9" r="5.2"/>
<circle cx="467.6" cy="60.6" r="5.2"/>
<circle cx="473.4" cy="54.6" r="5.2"/>
<circle cx="478.9" cy="53.4" r="5.2"/>
<circle cx="484.8" cy="52.2" r="5.2"/>
<circle cx="495.0" cy="49.5" r="5.2"/>
<circle cx="502.1" cy="47.9" r="5.2"/>
<circle cx="505.2" cy="49.5" r="5.2"/>
<circle cx="506.0" cy="51.2" r="5.2"/>
<circle cx="501.3" cy="51.8" r="5.2"/>
<circle cx="497.4" cy="52.8" r="5.2"/>
<circle cx="508.3" cy="55.4" r="5.2"/>
<circle cx="490.7" cy="53.4" r="5.2"/>
<circle cx="486.4" cy="57.7" r="5.2"/>
<circle cx="484.0" cy="60.5" r="5.2"/>
<circle cx="493.4" cy="58.1" r="5.2"/>
<circle cx="497.4" cy="57.3" r="5.2"/>
<circle cx="500.9" cy="58.5" r="5.2"/>
<circle cx="503.6" cy="59.7" r="5.2"/>
<circle cx="495.0" cy="60.9" r="5.2"/>
<circle cx="476.2" cy="62.8" r="5.2"/>
<circle cx="414.3" cy="84.4" r="5.2"/>
<circle cx="422.6" cy="86.0" r="5.2"/>
<circle cx="419.7" cy="90.7" r="5.2"/>
<circle cx="424.0" cy="91.0" r="5.2"/>
<circle cx="451.8" cy="88.7" r="5.2"/>
<circle cx="422.6" cy="102.8" r="5.2"/>
<circle cx="419.0" cy="105.5" r="5.2"/>
<circle cx="413.7" cy="106.4" r="5.2"/>
<circle cx="445.8" cy="111.0" r="5.2"/>
<circle cx="439.1" cy="113.4" r="5.2"/>
<circle cx="421.7" cy="113.1" r="5.2"/>
<circle cx="421.3" cy="118.0" r="5.2"/>
<circle cx="438.4" cy="117.6" r="5.2"/>
<circle cx="426.1" cy="122.5" r="5.2"/>
<circle cx="439.1" cy="122.5" r="5.2"/>
<circle cx="413.7" cy="124.7" r="5.2"/>
<circle cx="461.5" cy="122.5" r="5.2"/>
<circle cx="451.4" cy="125.0" r="5.2"/>
<circle cx="420.4" cy="127.4" r="5.2"/>
<circle cx="418.4" cy="128.4" r="5.2"/>
<circle cx="415.9" cy="129.2" r="5.2"/>
<circle cx="428.4" cy="129.2" r="5.2"/>
<circle cx="441.1" cy="126.8" r="5.2"/>
<circle cx="443.5" cy="126.5" r="5.2"/>
<circle cx="440.5" cy="131.4" r="5.2"/>
<circle cx="437.1" cy="133.4" r="5.2"/>
<circle cx="418.4" cy="132.8" r="5.2"/>
<circle cx="457.9" cy="132.1" r="5.2"/>
<circle cx="423.4" cy="137.5" r="5.2"/>
<circle cx="425.3" cy="138.5" r="5.2"/>
<circle cx="415.0" cy="142.0" r="5.2"/>
<circle cx="417.3" cy="143.4" r="5.2"/>
<circle cx="439.1" cy="142.7" r="5.2"/>
<circle cx="437.5" cy="167.7" r="5.2"/>
<circle cx="400.8" cy="71.8" r="5.2"/>
<circle cx="401.8" cy="80.7" r="5.2"/>
<circle cx="403.1" cy="83.6" r="5.2"/>
<circle cx="382.6" cy="86.7" r="5.2"/>
<circle cx="377.4" cy="89.4" r="5.2"/>
<circle cx="381.4" cy="92.7" r="5.2"/>
<circle cx="384.3" cy="92.5" r="5.2"/>
<circle cx="386.4" cy="96.1" r="5.2"/>
<circle cx="399.5" cy="90.3" r="5.2"/>
<circle cx="396.8" cy="94.1" r="5.2"/>
<circle cx="407.1" cy="92.1" r="5.2"/>
<circle cx="409.8" cy="90.7" r="5.2"/>
<circle cx="412.5" cy="91.4" r="5.2"/>
<circle cx="369.6" cy="95.8" r="5.2"/>
<circle cx="362.9" cy="103.5" r="5.2"/>
<circle cx="359.6" cy="107.2" r="5.2"/>
<circle cx="360.9" cy="109.9" r="5.2"/>
<circle cx="365.3" cy="108.1" r="5.2"/>
<circle cx="386.8" cy="107.5" r="5.2"/>
<circle cx="412.5" cy="106.8" r="5.2"/>
<circle cx="350.2" cy="112.7" r="5.2"/>
<circle cx="358.2" cy="114.7" r="5.2"/>
<circle cx="368.3" cy="112.7" r="5.2"/>
<circle cx="380.3" cy="112.7" r="5.2"/>
<circle cx="378.3" cy="114.7" r="5.2"/>
<circle cx="351.5" cy="117.4" r="5.2"/>
<circle cx="352.2" cy="119.8" r="5.2"/>
<circle cx="370.9" cy="117.1" r="5.2"/>
<circle cx="375.2" cy="117.6" r="5.2"/>
<circle cx="389.7" cy="116.3" r="5.2"/>
<circle cx="387.0" cy="119.0" r="5.2"/>
<circle cx="397.5" cy="115.4" r="5.2"/>
<circle cx="406.8" cy="113.4" r="5.2"/>
<circle cx="412.2" cy="117.1" r="5.2"/>
<circle cx="411.8" cy="121.4" r="5.2"/>
<circle cx="389.0" cy="121.4" r="5.2"/>
<circle cx="387.0" cy="124.1" r="5.2"/>
<circle cx="378.3" cy="122.1" r="5.2"/>
<circle cx="375.6" cy="124.7" r="5.2"/>
<circle cx="381.7" cy="124.7" r="5.2"/>
<circle cx="365.6" cy="122.1" r="5.2"/>
<circle cx="366.9" cy="125.1" r="5.2"/>
<circle cx="362.2" cy="124.7" r="5.2"/>
<circle cx="360.0" cy="125.4" r="5.2"/>
<circle cx="377.4" cy="129.2" r="5.2"/>
<circle cx="378.3" cy="131.4" r="5.2"/>
<circle cx="400.4" cy="125.4" r="5.2"/>
<circle cx="399.1" cy="128.1" r="5.2"/>
<circle cx="396.4" cy="130.1" r="5.2"/>
<circle cx="404.4" cy="132.1" r="5.2"/>
<circle cx="400.4" cy="134.8" r="5.2"/>
<circle cx="391.0" cy="132.8" r="5.2"/>
<circle cx="388.4" cy="136.1" r="5.2"/>
<circle cx="406.8" cy="137.5" r="5.2"/>
<circle cx="325.1" cy="128.1" r="5.2"/>
<circle cx="327.8" cy="131.0" r="5.2"/>
<circle cx="327.0" cy="135.5" r="5.2"/>
<circle cx="337.2" cy="129.4" r="5.2"/>
<circle cx="343.5" cy="132.1" r="5.2"/>
<circle cx="344.8" cy="133.7" r="5.2"/>
<circle cx="352.2" cy="134.8" r="5.2"/>
<circle cx="359.6" cy="133.7" r="5.2"/>
<circle cx="332.1" cy="141.8" r="5.2"/>
<circle cx="334.8" cy="143.4" r="5.2"/>
<circle cx="353.3" cy="144.4" r="5.2"/>
<circle cx="360.2" cy="143.6" r="5.2"/>
<circle cx="366.9" cy="142.7" r="5.2"/>
<circle cx="379.6" cy="140.4" r="5.2"/>
<circle cx="384.3" cy="140.0" r="5.2"/>
<circle cx="403.8" cy="140.0" r="5.2"/>
<circle cx="408.4" cy="146.3" r="5.2"/>
<circle cx="381.0" cy="144.7" r="5.2"/>
<circle cx="381.7" cy="147.4" r="5.2"/>
<circle cx="370.3" cy="147.4" r="5.2"/>
<circle cx="336.8" cy="147.4" r="5.2"/>
<circle cx="335.5" cy="149.4" r="5.2"/>
<circle cx="344.8" cy="149.4" r="5.2"/>
<circle cx="347.5" cy="150.7" r="5.2"/>
<circle cx="323.4" cy="148.7" r="5.2"/>
<circle cx="326.1" cy="148.4" r="5.2"/>
<circle cx="365.6" cy="151.4" r="5.2"/>
<circle cx="368.3" cy="155.4" r="5.2"/>
<circle cx="376.3" cy="151.4" r="5.2"/>
<circle cx="378.3" cy="153.4" r="5.2"/>
<circle cx="381.0" cy="152.1" r="5.2"/>
<circle cx="353.5" cy="153.8" r="5.2"/>
<circle cx="349.5" cy="156.8" r="5.2"/>
<circle cx="331.4" cy="154.7" r="5.2"/>
<circle cx="338.8" cy="154.7" r="5.2"/>
<circle cx="341.5" cy="156.5" r="5.2"/>
<circle cx="341.5" cy="159.2" r="5.2"/>
<circle cx="333.4" cy="158.8" r="5.2"/>
<circle cx="325.4" cy="160.8" r="5.2"/>
<circle cx="331.4" cy="163.4" r="5.2"/>
<circle cx="395.7" cy="154.1" r="5.2"/>
<circle cx="398.4" cy="152.5" r="5.2"/>
<circle cx="401.1" cy="156.1" r="5.2"/>
<circle cx="388.1" cy="156.1" r="5.2"/>
<circle cx="396.4" cy="158.8" r="5.2"/>
<circle cx="395.1" cy="162.8" r="5.2"/>
<circle cx="376.3" cy="158.1" r="5.2"/>
<circle cx="380.3" cy="159.4" r="5.2"/>
<circle cx="381.7" cy="162.1" r="5.2"/>
<circle cx="385.0" cy="162.8" r="5.2"/>
<circle cx="377.0" cy="164.1" r="5.2"/>
<circle cx="381.7" cy="165.5" r="5.2"/>
<circle cx="389.4" cy="166.5" r="5.2"/>
<circle cx="358.9" cy="162.1" r="5.2"/>
<circle cx="357.6" cy="164.1" r="5.2"/>
<circle cx="358.2" cy="169.1" r="5.2"/>
<circle cx="338.1" cy="169.9" r="5.2"/>
<circle cx="339.9" cy="173.4" r="5.2"/>
<circle cx="345.9" cy="170.9" r="5.2"/>
<circle cx="362.2" cy="170.9" r="5.2"/>
<circle cx="410.5" cy="170.4" r="5.2"/>
<circle cx="328.5" cy="174.7" r="5.2"/>
<circle cx="333.0" cy="175.6" r="5.2"/>
<circle cx="339.5" cy="178.4" r="5.2"/>
<circle cx="341.5" cy="179.4" r="5.2"/>
<circle cx="346.8" cy="175.4" r="5.2"/>
<circle cx="350.6" cy="173.6" r="5.2"/>
<circle cx="357.3" cy="175.4" r="5.2"/>
<circle cx="379.6" cy="174.0" r="5.2"/>
<circle cx="391.0" cy="176.3" r="5.2"/>
<circle cx="374.6" cy="180.7" r="5.2"/>
<circle cx="325.8" cy="185.0" r="5.2"/>
<circle cx="353.8" cy="187.0" r="5.2"/>
<circle cx="346.6" cy="196.8" r="5.2"/>
</g>
<polygon points="323.9,145.6 327.0,145.3 330.1,145.2 333.2,145.0 336.3,144.8 339.5,144.5 342.6,144.0 345.7,143.4 348.8,142.9 351.9,142.3 355.0,141.4 358.1,140.5 361.2,139.5 364.4,138.5 367.5,137.4 370.6,136.2 373.7,134.8 376.8,133.4 379.9,131.9 383.0,130.3 386.1,128.6 389.2,126.6 392.4,124.6 395.5,122.5 398.6,120.4 401.7,118.1 404.8,115.8 407.9,113.3 411.0,110.8 414.1,108.1 417.3,105.5 420.4,102.8 423.5,100.0 426.6,97.1 429.7,94.2 432.8,91.0 435.9,87.7 439.0,84.2 442.2,80.8 445.3,77.5 448.4,74.6 451.5,72.0 454.6,69.6 457.7,67.4 460.8,65.5 463.9,63.7 467.0,61.8 470.2,59.9 473.3,58.0 476.4,56.2 479.5,54.1 482.6,52.1 485.7,50.2 488.8,48.3 491.9,46.2 495.1,44.3 498.2,42.6 501.3,41.0 504.4,39.6 507.5,38.6 507.5,58.2 504.4,57.6 501.3,57.3 498.2,57.3 495.1,57.6 491.9,58.2 488.8,59.0 485.7,60.3 482.6,61.8 479.5,63.5 476.4,65.2 473.3,67.2 470.2,69.3 467.0,71.5 463.9,73.6 460.8,75.7 457.7,77.9 454.6,80.4 451.5,83.1 448.4,86.1 445.3,89.2 442.2,92.3 439.0,95.5 435.9,98.7 432.8,101.7 429.7,104.6 426.6,107.3 423.5,109.8 420.4,112.3 417.3,114.7 414.1,117.1 411.0,119.4 407.9,121.6 404.8,123.8 401.7,125.9 398.6,128.0 395.5,130.1 392.4,132.0 389.2,133.9 386.1,135.6 383.0,137.4 379.9,139.2 376.8,140.8 373.7,142.4 370.6,143.9 367.5,145.3 364.4,146.8 361.2,148.2 358.1,149.5 355.0,150.8 351.9,152.1 348.8,153.6 345.7,155.1 342.6,156.6 339.5,158.1 336.3,159.7 333.2,161.6 330.1,163.4 327.0,165.3 323.9,167.2" fill="#cfbfd6" fill-opacity="0.85"/>
<circle cx="493.0" cy="28.7" r="1.95" fill="#00e400"/>
<circle cx="475.7" cy="30.3" r="1.95" fill="#00e400"/>
<circle cx="480.6" cy="32.1" r="1.95" fill="#00e400"/>
<circle cx="450.5" cy="36.5" r="1.95" fill="#00e400"/>
<circle cx="461.9" cy="40.1" r="1.95" fill="#00e400"/>
<circle cx="474.2" cy="38.8" r="1.95" fill="#00e400"/>
<circle cx="481.3" cy="38.8" r="1.95" fill="#00e400"/>
<circle cx="483.3" cy="42.1" r="1.95" fill="#00e400"/>
<circle cx="486.0" cy="39.4" r="1.95" fill="#00e400"/>
<circle cx="486.7" cy="41.4" r="1.95" fill="#00e400"/>
<circle cx="490.7" cy="38.4" r="1.95" fill="#00e400"/>
<circle cx="497.8" cy="38.8" r="1.95" fill="#00e400"/>
<circle cx="505.1" cy="37.4" r="1.95" fill="#00e400"/>
<circle cx="469.9" cy="42.8" r="1.95" fill="#00e400"/>
<circle cx="471.3" cy="45.5" r="1.95" fill="#00e400"/>
<circle cx="490.7" cy="42.8" r="1.95" fill="#00e400"/>
<circle cx="492.0" cy="46.1" r="1.95" fill="#00e400"/>
<circle cx="500.1" cy="44.5" r="1.95" fill="#00e400"/>
<circle cx="441.1" cy="45.9" r="1.95" fill="#00e400"/>
<circle cx="423.4" cy="48.8" r="1.95" fill="#00e400"/>
<circle cx="434.0" cy="47.7" r="1.95" fill="#00e400"/>
<circle cx="444.7" cy="49.5" r="1.95" fill="#00e400"/>
<circle cx="451.2" cy="49.5" r="1.95" fill="#00e400"/>
<circle cx="461.9" cy="49.9" r="1.95" fill="#00e400"/>
<circle cx="473.3" cy="46.8" r="1.95" fill="#00e400"/>
<circle cx="494.7" cy="49.5" r="1.95" fill="#00e400"/>
<circle cx="498.7" cy="49.5" r="1.95" fill="#00e400"/>
<circle cx="502.7" cy="48.8" r="1.95" fill="#00e400"/>
<circle cx="506.1" cy="49.5" r="1.95" fill="#00e400"/>
<circle cx="434.0" cy="49.6" r="1.95" fill="#00e400"/>
<circle cx="433.8" cy="53.4" r="1.95" fill="#00e400"/>
<circle cx="433.1" cy="56.0" r="1.95" fill="#00e400"/>
<circle cx="453.2" cy="52.0" r="1.95" fill="#00e400"/>
<circle cx="458.5" cy="53.1" r="1.95" fill="#00e400"/>
<circle cx="417.7" cy="66.1" r="1.95" fill="#00e400"/>
<circle cx="419.7" cy="68.1" r="1.95" fill="#00e400"/>
<circle cx="415.4" cy="72.8" r="1.95" fill="#00e400"/>
<circle cx="427.1" cy="66.1" r="1.95" fill="#00e400"/>
<circle cx="426.4" cy="69.2" r="1.95" fill="#00e400"/>
<circle cx="431.8" cy="70.1" r="1.95" fill="#00e400"/>
<circle cx="436.0" cy="68.8" r="1.95" fill="#00e400"/>
<circle cx="441.8" cy="64.7" r="1.95" fill="#00e400"/>
<circle cx="444.5" cy="66.1" r="1.95" fill="#00e400"/>
<circle cx="443.5" cy="68.8" r="1.95" fill="#00e400"/>
<circle cx="452.9" cy="64.1" r="1.95" fill="#00e400"/>
<circle cx="469.2" cy="65.4" r="1.95" fill="#00e400"/>
<circle cx="479.3" cy="66.5" r="1.95" fill="#00e400"/>
<circle cx="485.1" cy="67.8" r="1.95" fill="#00e400"/>
<circle cx="490.0" cy="68.1" r="1.95" fill="#00e400"/>
<circle cx="492.0" cy="63.0" r="1.95" fill="#00e400"/>
<circle cx="498.0" cy="63.0" r="1.95" fill="#00e400"/>
<circle cx="458.5" cy="52.6" r="1.95" fill="#00e400"/>
<circle cx="462.1" cy="49.9" r="1.95" fill="#00e400"/>
<circle cx="466.8" cy="54.2" r="1.95" fill="#00e400"/>
<circle cx="466.4" cy="58.9" r="1.95" fill="#00e400"/>
<circle cx="467.6" cy="60.6" r="1.95" fill="#00e400"/>
<circle cx="473.4" cy="54.6" r="1.95" fill="#00e400"/>
<circle cx="478.9" cy="53.4" r="1.95" fill="#00e400"/>
<circle cx="484.8" cy="52.2" r="1.95" fill="#00e400"/>
<circle cx="495.0" cy="49.5" r="1.95" fill="#00e400"/>
<circle cx="502.1" cy="47.9" r="1.95" fill="#00e400"/>
<circle cx="505.2" cy="49.5" r="1.95" fill="#00e400"/>
<circle cx="506.0" cy="51.2" r="1.95" fill="#00e400"/>
<circle cx="501.3" cy="51.8" r="1.95" fill="#00e400"/>
<circle cx="497.4" cy="52.8" r="1.95" fill="#00e400"/>
<circle cx="508.3" cy="55.4" r="1.95" fill="#00e400"/>
<circle cx="490.7" cy="53.4" r="1.95" fill="#00e400"/>
<circle cx="486.4" cy="57.7" r="1.95" fill="#00e400"/>
<circle cx="484.0" cy="60.5" r="1.95" fill="#00e400"/>
<circle cx="493.4" cy="58.1" r="1.95" fill="#00e400"/>
<circle cx="497.4" cy="57.3" r="1.95" fill="#00e400"/>
<circle cx="500.9" cy="58.5" r="1.95" fill="#00e400"/>
<circle cx="503.6" cy="59.7" r="1.95" fill="#00e400"/>
<circle cx="495.0" cy="60.9" r="1.95" fill="#00e400"/>
<circle cx="476.2" cy="62.8" r="1.95" fill="#00e400"/>
<circle cx="414.3" cy="84.4" r="1.95" fill="#00e400"/>
<circle cx="422.6" cy="86.0" r="1.95" fill="#00e400"/>
<circle cx="419.7" cy="90.7" r="1.95" fill="#00e400"/>
<circle cx="424.0" cy="91.0" r="1.95" fill="#00e400"/>
<circle cx="451.8" cy="88.7" r="1.95" fill="#00e400"/>
<circle cx="422.6" cy="102.8" r="1.95" fill="#00e400"/>
<circle cx="419.0" cy="105.5" r="1.95" fill="#00e400"/>
<circle cx="413.7" cy="106.4" r="1.95" fill="#00e400"/>
<circle cx="445.8" cy="111.0" r="1.95" fill="#00e400"/>
<circle cx="439.1" cy="113.4" r="1.95" fill="#00e400"/>
<circle cx="421.7" cy="113.1" r="1.95" fill="#00e400"/>
<circle cx="421.3" cy="118.0" r="1.95" fill="#00e400"/>
<circle cx="438.4" cy="117.6" r="1.95" fill="#00e400"/>
<circle cx="426.1" cy="122.5" r="1.95" fill="#00e400"/>
<circle cx="439.1" cy="122.5" r="1.95" fill="#00e400"/>
<circle cx="413.7" cy="124.7" r="1.95" fill="#00e400"/>
<circle cx="461.5" cy="122.5" r="1.95" fill="#00e400"/>
<circle cx="451.4" cy="125.0" r="1.95" fill="#00e400"/>
<circle cx="420.4" cy="127.4" r="1.95" fill="#00e400"/>
<circle cx="418.4" cy="128.4" r="1.95" fill="#00e400"/>
<circle cx="415.9" cy="129.2" r="1.95" fill="#00e400"/>
<circle cx="428.4" cy="129.2" r="1.95" fill="#00e400"/>
<circle cx="441.1" cy="126.8" r="1.95" fill="#00e400"/>
<circle cx="443.5" cy="126.5" r="1.95" fill="#00e400"/>
<circle cx="440.5" cy="131.4" r="1.95" fill="#00e400"/>
<circle cx="437.1" cy="133.4" r="1.95" fill="#00e400"/>
<circle cx="418.4" cy="132.8" r="1.95" fill="#00e400"/>
<circle cx="457.9" cy="132.1" r="1.95" fill="#00e400"/>
<circle cx="423.4" cy="137.5" r="1.95" fill="#00e400"/>
<circle cx="425.3" cy="138.5" r="1.95" fill="#00e400"/>
<circle cx="415.0" cy="142.0" r="1.95" fill="#00e400"/>
<circle cx="417.3" cy="143.4" r="1.95" fill="#00e400"/>
<circle cx="439.1" cy="142.7" r="1.95" fill="#00e400"/>
<circle cx="437.5" cy="167.7" r="1.95" fill="#00e400"/>
<circle cx="400.8" cy="71.8" r="1.95" fill="#00e400"/>
<circle cx="401.8" cy="80.7" r="1.95" fill="#00e400"/>
<circle cx="403.1" cy="83.6" r="1.95" fill="#00e400"/>
<circle cx="382.6" cy="86.7" r="1.95" fill="#00e400"/>
<circle cx="377.4" cy="89.4" r="1.95" fill="#00e400"/>
<circle cx="381.4" cy="92.7" r="1.95" fill="#00e400"/>
<circle cx="384.3" cy="92.5" r="1.95" fill="#00e400"/>
<circle cx="386.4" cy="96.1" r="1.95" fill="#00e400"/>
<circle cx="399.5" cy="90.3" r="1.95" fill="#00e400"/>
<circle cx="396.8" cy="94.1" r="1.95" fill="#00e400"/>
<circle cx="407.1" cy="92.1" r="1.95" fill="#00e400"/>
<circle cx="409.8" cy="90.7" r="1.95" fill="#00e400"/>
<circle cx="412.5" cy="91.4" r="1.95" fill="#00e400"/>
<circle cx="369.6" cy="95.8" r="1.95" fill="#00e400"/>
<circle cx="362.9" cy="103.5" r="1.95" fill="#00e400"/>
<circle cx="359.6" cy="107.2" r="1.95" fill="#00e400"/>
<circle cx="360.9" cy="109.9" r="1.95" fill="#00e400"/>
<circle cx="365.3" cy="108.1" r="1.95" fill="#00e400"/>
<circle cx="386.8" cy="107.5" r="1.95" fill="#00e400"/>
<circle cx="412.5" cy="106.8" r="1.95" fill="#00e400"/>
<circle cx="350.2" cy="112.7" r="1.95" fill="#00e400"/>
<circle cx="358.2" cy="114.7" r="1.95" fill="#00e400"/>
<circle cx="368.3" cy="112.7" r="1.95" fill="#00e400"/>
<circle cx="380.3" cy="112.7" r="1.95" fill="#00e400"/>
<circle cx="378.3" cy="114.7" r="1.95" fill="#00e400"/>
<circle cx="351.5" cy="117.4" r="1.95" fill="#00e400"/>
<circle cx="352.2" cy="119.8" r="1.95" fill="#00e400"/>
<circle cx="370.9" cy="117.1" r="1.95" fill="#00e400"/>
<circle cx="375.2" cy="117.6" r="1.95" fill="#00e400"/>
<circle cx="389.7" cy="116.3" r="1.95" fill="#00e400"/>
<circle cx="387.0" cy="119.0" r="1.95" fill="#00e400"/>
<circle cx="397.5" cy="115.4" r="1.95" fill="#00e400"/>
<circle cx="406.8" cy="113.4" r="1.95" fill="#00e400"/>
<circle cx="412.2" cy="117.1" r="1.95" fill="#00e400"/>
<circle cx="411.8" cy="121.4" r="1.95" fill="#00e400"/>
<circle cx="389.0" cy="121.4" r="1.95" fill="#00e400"/>
<circle cx="387.0" cy="124.1" r="1.95" fill="#00e400"/>
<circle cx="378.3" cy="122.1" r="1.95" fill="#00e400"/>
<circle cx="375.6" cy="124.7" r="1.95" fill="#00e400"/>
<circle cx="381.7" cy="124.7" r="1.95" fill="#00e400"/>
<circle cx="365.6" cy="122.1" r="1.95" fill="#00e400"/>
<circle cx="366.9" cy="125.1" r="1.95" fill="#00e400"/>
<circle cx="362.2" cy="124.7" r="1.95" fill="#00e400"/>
<circle cx="360.0" cy="125.4" r="1.95" fill="#00e400"/>
<circle cx="377.4" cy="129.2" r="1.95" fill="#00e400"/>
<circle cx="378.3" cy="131.4" r="1.95" fill="#00e400"/>
<circle cx="400.4" cy="125.4" r="1.95" fill="#00e400"/>
<circle cx="399.1" cy="128.1" r="1.95" fill="#00e400"/>
<circle cx="396.4" cy="130.1" r="1.95" fill="#00e400"/>
<circle cx="404.4" cy="132.1" r="1.95" fill="#00e400"/>
<circle cx="400.4" cy="134.8" r="1.95" fill="#00e400"/>
<circle cx="391.0" cy="132.8" r="1.95" fill="#00e400"/>
<circle cx="388.4" cy="136.1" r="1.95" fill="#00e400"/>
<circle cx="406.8" cy="137.5" r="1.95" fill="#00e400"/>
<circle cx="325.1" cy="128.1" r="1.95" fill="#00e400"/>
<circle cx="327.8" cy="131.0" r="1.95" fill="#00e400"/>
<circle cx="327.0" cy="135.5" r="1.95" fill="#00e400"/>
<circle cx="337.2" cy="129.4" r="1.95" fill="#00e400"/>
<circle cx="343.5" cy="132.1" r="1.95" fill="#00e400"/>
<circle cx="344.8" cy="133.7" r="1.95" fill="#00e400"/>
<circle cx="352.2" cy="134.8" r="1.95" fill="#00e400"/>
<circle cx="359.6" cy="133.7" r="1.95" fill="#00e400"/>
<circle cx="332.1" cy="141.8" r="1.95" fill="#00e400"/>
<circle cx="334.8" cy="143.4" r="1.95" fill="#00e400"/>
<circle cx="353.3" cy="144.4" r="1.95" fill="#00e400"/>
<circle cx="360.2" cy="143.6" r="1.95" fill="#00e400"/>
<circle cx="366.9" cy="142.7" r="1.95" fill="#00e400"/>
<circle cx="379.6" cy="140.4" r="1.95" fill="#00e400"/>
<circle cx="384.3" cy="140.0" r="1.95" fill="#00e400"/>
<circle cx="403.8" cy="140.0" r="1.95" fill="#00e400"/>
<circle cx="408.4" cy="146.3" r="1.95" fill="#00e400"/>
<circle cx="381.0" cy="144.7" r="1.95" fill="#00e400"/>
<circle cx="381.7" cy="147.4" r="1.95" fill="#00e400"/>
<circle cx="370.3" cy="147.4" r="1.95" fill="#00e400"/>
<circle cx="336.8" cy="147.4" r="1.95" fill="#00e400"/>
<circle cx="335.5" cy="149.4" r="1.95" fill="#00e400"/>
<circle cx="344.8" cy="149.4" r="1.95" fill="#00e400"/>
<circle cx="347.5" cy="150.7" r="1.95" fill="#00e400"/>
<circle cx="323.4" cy="148.7" r="1.95" fill="#00e400"/>
<circle cx="326.1" cy="148.4" r="1.95" fill="#00e400"/>
<circle cx="365.6" cy="151.4" r="1.95" fill="#00e400"/>
<circle cx="368.3" cy="155.4" r="1.95" fill="#00e400"/>
<circle cx="376.3" cy="151.4" r="1.95" fill="#00e400"/>
<circle cx="378.3" cy="153.4" r="1.95" fill="#00e400"/>
<circle cx="381.0" cy="152.1" r="1.95" fill="#00e400"/>
<circle cx="353.5" cy="153.8" r="1.95" fill="#00e400"/>
<circle cx="349.5" cy="156.8" r="1.95" fill="#00e400"/>
<circle cx="331.4" cy="154.7" r="1.95" fill="#00e400"/>
<circle cx="338.8" cy="154.7" r="1.95" fill="#00e400"/>
<circle cx="341.5" cy="156.5" r="1.95" fill="#00e400"/>
<circle cx="341.5" cy="159.2" r="1.95" fill="#00e400"/>
<circle cx="333.4" cy="158.8" r="1.95" fill="#00e400"/>
<circle cx="325.4" cy="160.8" r="1.95" fill="#00e400"/>
<circle cx="331.4" cy="163.4" r="1.95" fill="#00e400"/>
<circle cx="395.7" cy="154.1" r="1.95" fill="#00e400"/>
<circle cx="398.4" cy="152.5" r="1.95" fill="#00e400"/>
<circle cx="401.1" cy="156.1" r="1.95" fill="#00e400"/>
<circle cx="388.1" cy="156.1" r="1.95" fill="#00e400"/>
<circle cx="396.4" cy="158.8" r="1.95" fill="#00e400"/>
<circle cx="395.1" cy="162.8" r="1.95" fill="#00e400"/>
<circle cx="376.3" cy="158.1" r="1.95" fill="#00e400"/>
<circle cx="380.3" cy="159.4" r="1.95" fill="#00e400"/>
<circle cx="381.7" cy="162.1" r="1.95" fill="#00e400"/>
<circle cx="385.0" cy="162.8" r="1.95" fill="#00e400"/>
<circle cx="377.0" cy="164.1" r="1.95" fill="#00e400"/>
<circle cx="381.7" cy="165.5" r="1.95" fill="#00e400"/>
<circle cx="389.4" cy="166.5" r="1.95" fill="#00e400"/>
<circle cx="358.9" cy="162.1" r="1.95" fill="#00e400"/>
<circle cx="357.6" cy="164.1" r="1.95" fill="#00e400"/>
<circle cx="358.2" cy="169.1" r="1.95" fill="#00e400"/>
<circle cx="338.1" cy="169.9" r="1.95" fill="#00e400"/>
<circle cx="339.9" cy="173.4" r="1.95" fill="#00e400"/>
<circle cx="345.9" cy="170.9" r="1.95" fill="#00e400"/>
<circle cx="362.2" cy="170.9" r="1.95" fill="#00e400"/>
<circle cx="410.5" cy="170.4" r="1.95" fill="#00e400"/>
<circle cx="328.5" cy="174.7" r="1.95" fill="#00e400"/>
<circle cx="333.0" cy="175.6" r="1.95" fill="#00e400"/>
<circle cx="339.5" cy="178.4" r="1.95" fill="#00e400"/>
<circle cx="341.5" cy="179.4" r="1.95" fill="#00e400"/>
<circle cx="346.8" cy="175.4" r="1.95" fill="#00e400"/>
<circle cx="350.6" cy="173.6" r="1.95" fill="#00e400"/>
<circle cx="357.3" cy="175.4" r="1.95" fill="#00e400"/>
<circle cx="379.6" cy="174.0" r="1.95" fill="#00e400"/>
<circle cx="391.0" cy="176.3" r="1.95" fill="#00e400"/>
<circle cx="374.6" cy="180.7" r="1.95" fill="#00e400"/>
<circle cx="325.8" cy="185.0" r="1.95" fill="#00e400"/>
<circle cx="353.8" cy="187.0" r="1.95" fill="#00e400"/>
<circle cx="346.6" cy="196.8" r="1.95" fill="#00e400"/>
<line x1="297.7" y1="223.90" x2="518.2" y2="4.20" stroke="#2a2a2a" stroke-width="0.85"/>
<polyline points="323.9,156.4 327.0,155.3 330.1,154.3 333.2,153.3 336.3,152.3 339.5,151.3 342.6,150.3 345.7,149.3 348.8,148.2 351.9,147.2 355.0,146.1 358.1,145.0 361.2,143.8 364.4,142.6 367.5,141.4 370.6,140.0 373.7,138.6 376.8,137.1 379.9,135.5 383.0,133.9 386.1,132.1 389.2,130.3 392.4,128.3 395.5,126.3 398.6,124.2 401.7,122.0 404.8,119.8 407.9,117.4 411.0,115.1 414.1,112.6 417.3,110.1 420.4,107.5 423.5,104.9 426.6,102.2 429.7,99.4 432.8,96.4 435.9,93.2 439.0,89.8 442.2,86.5 445.3,83.4 448.4,80.3 451.5,77.5 454.6,75.0 457.7,72.7 460.8,70.6 463.9,68.6 467.0,66.6 470.2,64.6 473.3,62.6 476.4,60.7 479.5,58.8 482.6,56.9 485.7,55.2 488.8,53.6 491.9,52.2 495.1,51.0 498.2,49.9 501.3,49.1 504.4,48.6 507.5,48.4" fill="none" stroke="#00e400" stroke-width="1.4"/>
</g>
<path d="M324.50 223.6v3M297.7 197.40h-3" stroke="#333" stroke-width="0.9" fill="none"/>
<text class="tk" x="323.90" y="236.2" text-anchor="middle">200</text>
<text class="tk" x="292.2" y="201.70" text-anchor="end">200</text>
<path d="M392.00 223.6v3M297.7 129.45h-3" stroke="#333" stroke-width="0.9" fill="none"/>
<text class="tk" x="391.40" y="236.2" text-anchor="middle">400</text>
<text class="tk" x="292.2" y="133.75" text-anchor="end">400</text>
<path d="M459.50 223.6v3M297.7 61.50h-3" stroke="#333" stroke-width="0.9" fill="none"/>
<text class="tk" x="458.90" y="236.2" text-anchor="middle">600</text>
<text class="tk" x="292.2" y="65.80" text-anchor="end">600</text>
<text class="ti" x="407.95" y="249.7" text-anchor="middle">Chl measured by MC 100</text>
<text class="ti" transform="translate(273.50 113.80) rotate(-90)" text-anchor="middle">Chl fitted by RVI index</text>
<clipPath id="c2"><rect x="560.4" y="3.4" width="220.20000000000005" height="220.2"/></clipPath>
<rect x="560.4" y="3.4" width="220.20000000000005" height="220.2" fill="#ebebeb"/>
<g clip-path="url(#c2)">
<path d="M610.65 3.4V223.6M560.4 173.85H780.6" stroke="#f9f9f9" stroke-width="0.7" fill="none"/>
<path d="M682.95 3.4V223.6M560.4 101.35H780.6" stroke="#f9f9f9" stroke-width="0.7" fill="none"/>
<path d="M755.25 3.4V223.6M560.4 28.85H780.6" stroke="#f9f9f9" stroke-width="0.7" fill="none"/>
<path d="M574.50 3.4V223.6M560.4 210.10H780.6" stroke="#fff" stroke-width="1" fill="none"/>
<path d="M646.80 3.4V223.6M560.4 137.60H780.6" stroke="#fff" stroke-width="1" fill="none"/>
<path d="M719.10 3.4V223.6M560.4 65.10H780.6" stroke="#fff" stroke-width="1" fill="none"/>
<g filter="url(#bl)" fill="#f6f6e2" fill-opacity="0.9">
<circle cx="754.7" cy="27.4" r="5.2"/>
<circle cx="736.6" cy="28.7" r="5.2"/>
<circle cx="742.4" cy="31.4" r="5.2"/>
<circle cx="709.4" cy="36.5" r="5.2"/>
<circle cx="735.3" cy="38.8" r="5.2"/>
<circle cx="722.1" cy="42.8" r="5.2"/>
<circle cx="743.0" cy="40.1" r="5.2"/>
<circle cx="746.0" cy="40.5" r="5.2"/>
<circle cx="748.0" cy="39.4" r="5.2"/>
<circle cx="750.3" cy="38.4" r="5.2"/>
<circle cx="752.4" cy="40.1" r="5.2"/>
<circle cx="748.0" cy="44.1" r="5.2"/>
<circle cx="744.0" cy="45.9" r="5.2"/>
<circle cx="753.1" cy="45.9" r="5.2"/>
<circle cx="760.3" cy="42.8" r="5.2"/>
<circle cx="767.4" cy="40.1" r="5.2"/>
<circle cx="731.2" cy="46.4" r="5.2"/>
<circle cx="731.2" cy="49.1" r="5.2"/>
<circle cx="762.3" cy="48.8" r="5.2"/>
<circle cx="740.6" cy="49.9" r="5.2"/>
<circle cx="753.1" cy="49.9" r="5.2"/>
<circle cx="699.8" cy="51.5" r="5.2"/>
<circle cx="703.4" cy="52.0" r="5.2"/>
<circle cx="680.6" cy="51.8" r="5.2"/>
<circle cx="692.1" cy="52.0" r="5.2"/>
<circle cx="692.1" cy="55.8" r="5.2"/>
<circle cx="692.1" cy="61.4" r="5.2"/>
<circle cx="691.1" cy="63.8" r="5.2"/>
<circle cx="693.8" cy="65.1" r="5.2"/>
<circle cx="689.7" cy="68.1" r="5.2"/>
<circle cx="699.8" cy="60.7" r="5.2"/>
<circle cx="702.5" cy="64.7" r="5.2"/>
<circle cx="702.5" cy="67.4" r="5.2"/>
<circle cx="677.7" cy="65.4" r="5.2"/>
<circle cx="685.0" cy="65.4" r="5.2"/>
<circle cx="710.9" cy="57.6" r="5.2"/>
<circle cx="712.5" cy="60.7" r="5.2"/>
<circle cx="712.9" cy="65.7" r="5.2"/>
<circle cx="718.5" cy="60.0" r="5.2"/>
<circle cx="719.9" cy="70.1" r="5.2"/>
<circle cx="752.0" cy="68.1" r="5.2"/>
<circle cx="754.0" cy="70.1" r="5.2"/>
<circle cx="765.4" cy="66.1" r="5.2"/>
<circle cx="721.6" cy="54.2" r="5.2"/>
<circle cx="745.9" cy="51.5" r="5.2"/>
<circle cx="734.9" cy="52.7" r="5.2"/>
<circle cx="730.6" cy="54.2" r="5.2"/>
<circle cx="733.7" cy="55.4" r="5.2"/>
<circle cx="727.1" cy="56.2" r="5.2"/>
<circle cx="727.8" cy="58.9" r="5.2"/>
<circle cx="736.1" cy="59.3" r="5.2"/>
<circle cx="747.1" cy="57.0" r="5.2"/>
<circle cx="745.1" cy="58.9" r="5.2"/>
<circle cx="747.5" cy="60.1" r="5.2"/>
<circle cx="755.3" cy="56.2" r="5.2"/>
<circle cx="753.7" cy="58.9" r="5.2"/>
<circle cx="760.4" cy="52.3" r="5.2"/>
<circle cx="762.8" cy="53.5" r="5.2"/>
<circle cx="766.7" cy="52.3" r="5.2"/>
<circle cx="769.4" cy="53.8" r="5.2"/>
<circle cx="765.1" cy="54.6" r="5.2"/>
<circle cx="761.6" cy="57.0" r="5.2"/>
<circle cx="760.0" cy="60.1" r="5.2"/>
<circle cx="762.8" cy="60.5" r="5.2"/>
<circle cx="766.3" cy="60.9" r="5.2"/>
<circle cx="771.0" cy="61.7" r="5.2"/>
<circle cx="727.8" cy="63.6" r="5.2"/>
<circle cx="731.8" cy="64.0" r="5.2"/>
<circle cx="736.9" cy="62.9" r="5.2"/>
<circle cx="739.6" cy="64.4" r="5.2"/>
<circle cx="747.5" cy="64.0" r="5.2"/>
<circle cx="751.4" cy="64.4" r="5.2"/>
<circle cx="765.1" cy="64.8" r="5.2"/>
<circle cx="680.0" cy="90.3" r="5.2"/>
<circle cx="711.4" cy="94.1" r="5.2"/>
<circle cx="677.0" cy="99.4" r="5.2"/>
<circle cx="681.3" cy="102.5" r="5.2"/>
<circle cx="679.0" cy="108.1" r="5.2"/>
<circle cx="679.0" cy="115.4" r="5.2"/>
<circle cx="704.2" cy="114.4" r="5.2"/>
<circle cx="697.8" cy="115.4" r="5.2"/>
<circle cx="675.7" cy="121.4" r="5.2"/>
<circle cx="697.1" cy="122.5" r="5.2"/>
<circle cx="721.5" cy="123.4" r="5.2"/>
<circle cx="697.8" cy="127.0" r="5.2"/>
<circle cx="683.3" cy="127.8" r="5.2"/>
<circle cx="710.8" cy="129.0" r="5.2"/>
<circle cx="677.7" cy="130.5" r="5.2"/>
<circle cx="702.2" cy="131.8" r="5.2"/>
<circle cx="699.1" cy="135.5" r="5.2"/>
<circle cx="702.2" cy="135.9" r="5.2"/>
<circle cx="685.5" cy="135.7" r="5.2"/>
<circle cx="678.4" cy="137.2" r="5.2"/>
<circle cx="676.3" cy="139.5" r="5.2"/>
<circle cx="717.9" cy="140.9" r="5.2"/>
<circle cx="680.6" cy="147.6" r="5.2"/>
<circle cx="683.4" cy="149.1" r="5.2"/>
<circle cx="695.5" cy="147.1" r="5.2"/>
<circle cx="675.4" cy="155.0" r="5.2"/>
<circle cx="697.1" cy="171.3" r="5.2"/>
<circle cx="695.5" cy="195.1" r="5.2"/>
<circle cx="656.8" cy="68.8" r="5.2"/>
<circle cx="672.5" cy="71.0" r="5.2"/>
<circle cx="674.5" cy="63.0" r="5.2"/>
<circle cx="637.0" cy="90.3" r="5.2"/>
<circle cx="657.7" cy="88.0" r="5.2"/>
<circle cx="659.5" cy="88.0" r="5.2"/>
<circle cx="654.0" cy="91.1" r="5.2"/>
<circle cx="670.7" cy="89.8" r="5.2"/>
<circle cx="655.5" cy="95.4" r="5.2"/>
<circle cx="640.6" cy="95.8" r="5.2"/>
<circle cx="631.6" cy="97.7" r="5.2"/>
<circle cx="635.6" cy="99.7" r="5.2"/>
<circle cx="638.3" cy="99.7" r="5.2"/>
<circle cx="664.8" cy="99.4" r="5.2"/>
<circle cx="669.1" cy="101.2" r="5.2"/>
<circle cx="662.4" cy="104.8" r="5.2"/>
<circle cx="652.6" cy="105.5" r="5.2"/>
<circle cx="641.2" cy="106.1" r="5.2"/>
<circle cx="623.2" cy="108.4" r="5.2"/>
<circle cx="615.9" cy="114.0" r="5.2"/>
<circle cx="629.6" cy="118.0" r="5.2"/>
<circle cx="624.6" cy="119.8" r="5.2"/>
<circle cx="618.9" cy="120.3" r="5.2"/>
<circle cx="613.1" cy="119.8" r="5.2"/>
<circle cx="612.3" cy="121.0" r="5.2"/>
<circle cx="602.4" cy="124.1" r="5.2"/>
<circle cx="642.0" cy="120.3" r="5.2"/>
<circle cx="643.4" cy="122.7" r="5.2"/>
<circle cx="644.7" cy="124.3" r="5.2"/>
<circle cx="634.0" cy="124.3" r="5.2"/>
<circle cx="636.3" cy="125.8" r="5.2"/>
<circle cx="628.9" cy="126.8" r="5.2"/>
<circle cx="610.9" cy="125.7" r="5.2"/>
<circle cx="612.9" cy="127.8" r="5.2"/>
<circle cx="614.9" cy="130.1" r="5.2"/>
<circle cx="617.1" cy="132.1" r="5.2"/>
<circle cx="621.6" cy="126.8" r="5.2"/>
<circle cx="619.8" cy="128.8" r="5.2"/>
<circle cx="604.5" cy="129.4" r="5.2"/>
<circle cx="603.5" cy="131.8" r="5.2"/>
<circle cx="633.2" cy="130.1" r="5.2"/>
<circle cx="631.9" cy="133.4" r="5.2"/>
<circle cx="630.9" cy="136.1" r="5.2"/>
<circle cx="641.0" cy="130.5" r="5.2"/>
<circle cx="663.5" cy="121.1" r="5.2"/>
<circle cx="659.7" cy="124.3" r="5.2"/>
<circle cx="653.7" cy="128.8" r="5.2"/>
<circle cx="673.8" cy="114.0" r="5.2"/>
<circle cx="670.5" cy="121.4" r="5.2"/>
<circle cx="668.4" cy="129.2" r="5.2"/>
<circle cx="669.8" cy="132.1" r="5.2"/>
<circle cx="673.1" cy="134.8" r="5.2"/>
<circle cx="657.7" cy="132.1" r="5.2"/>
<circle cx="655.0" cy="134.8" r="5.2"/>
<circle cx="653.0" cy="136.1" r="5.2"/>
<circle cx="645.0" cy="133.4" r="5.2"/>
<circle cx="643.0" cy="136.1" r="5.2"/>
<circle cx="638.3" cy="136.8" r="5.2"/>
<circle cx="588.8" cy="137.2" r="5.2"/>
<circle cx="576.0" cy="139.9" r="5.2"/>
<circle cx="576.0" cy="140.0" r="5.2"/>
<circle cx="578.7" cy="140.7" r="5.2"/>
<circle cx="596.1" cy="140.4" r="5.2"/>
<circle cx="604.5" cy="140.4" r="5.2"/>
<circle cx="613.1" cy="140.9" r="5.2"/>
<circle cx="578.0" cy="145.4" r="5.2"/>
<circle cx="596.5" cy="146.3" r="5.2"/>
<circle cx="596.5" cy="149.0" r="5.2"/>
<circle cx="620.9" cy="144.0" r="5.2"/>
<circle cx="586.7" cy="151.1" r="5.2"/>
<circle cx="605.9" cy="152.5" r="5.2"/>
<circle cx="613.3" cy="150.7" r="5.2"/>
<circle cx="620.6" cy="149.8" r="5.2"/>
<circle cx="634.3" cy="142.0" r="5.2"/>
<circle cx="633.6" cy="147.6" r="5.2"/>
<circle cx="636.3" cy="146.0" r="5.2"/>
<circle cx="640.3" cy="144.0" r="5.2"/>
<circle cx="644.3" cy="146.0" r="5.2"/>
<circle cx="647.0" cy="142.0" r="5.2"/>
<circle cx="648.4" cy="145.4" r="5.2"/>
<circle cx="654.0" cy="140.4" r="5.2"/>
<circle cx="661.7" cy="140.0" r="5.2"/>
<circle cx="662.4" cy="142.0" r="5.2"/>
<circle cx="669.8" cy="145.4" r="5.2"/>
<circle cx="673.1" cy="146.3" r="5.2"/>
<circle cx="652.0" cy="151.1" r="5.2"/>
<circle cx="654.1" cy="153.4" r="5.2"/>
<circle cx="660.8" cy="150.7" r="5.2"/>
<circle cx="664.8" cy="150.7" r="5.2"/>
<circle cx="674.5" cy="154.7" r="5.2"/>
<circle cx="628.9" cy="152.5" r="5.2"/>
<circle cx="624.0" cy="154.3" r="5.2"/>
<circle cx="635.9" cy="155.1" r="5.2"/>
<circle cx="636.7" cy="156.8" r="5.2"/>
<circle cx="639.0" cy="158.8" r="5.2"/>
<circle cx="582.7" cy="158.1" r="5.2"/>
<circle cx="584.7" cy="159.2" r="5.2"/>
<circle cx="577.4" cy="161.4" r="5.2"/>
<circle cx="574.0" cy="164.1" r="5.2"/>
<circle cx="589.4" cy="162.1" r="5.2"/>
<circle cx="593.8" cy="160.8" r="5.2"/>
<circle cx="582.3" cy="166.8" r="5.2"/>
<circle cx="586.1" cy="165.5" r="5.2"/>
<circle cx="601.5" cy="165.5" r="5.2"/>
<circle cx="606.8" cy="164.1" r="5.2"/>
<circle cx="609.5" cy="162.1" r="5.2"/>
<circle cx="619.5" cy="162.8" r="5.2"/>
<circle cx="619.5" cy="166.1" r="5.2"/>
<circle cx="629.6" cy="162.1" r="5.2"/>
<circle cx="632.3" cy="161.4" r="5.2"/>
<circle cx="633.6" cy="164.1" r="5.2"/>
<circle cx="635.0" cy="162.8" r="5.2"/>
<circle cx="632.3" cy="164.8" r="5.2"/>
<circle cx="643.0" cy="162.1" r="5.2"/>
<circle cx="644.3" cy="164.1" r="5.2"/>
<circle cx="650.4" cy="167.7" r="5.2"/>
<circle cx="593.8" cy="170.4" r="5.2"/>
<circle cx="591.2" cy="173.1" r="5.2"/>
<circle cx="612.6" cy="170.4" r="5.2"/>
<circle cx="610.5" cy="173.4" r="5.2"/>
<circle cx="630.9" cy="170.0" r="5.2"/>
<circle cx="635.6" cy="169.6" r="5.2"/>
<circle cx="576.7" cy="175.0" r="5.2"/>
<circle cx="598.1" cy="176.3" r="5.2"/>
<circle cx="615.3" cy="177.1" r="5.2"/>
<circle cx="622.5" cy="176.3" r="5.2"/>
<circle cx="629.9" cy="174.0" r="5.2"/>
<circle cx="640.3" cy="174.0" r="5.2"/>
<circle cx="650.4" cy="173.4" r="5.2"/>
<circle cx="636.7" cy="177.1" r="5.2"/>
<circle cx="583.8" cy="180.7" r="5.2"/>
<circle cx="579.6" cy="183.4" r="5.2"/>
<circle cx="575.8" cy="187.2" r="5.2"/>
<circle cx="589.8" cy="180.7" r="5.2"/>
<circle cx="598.1" cy="180.7" r="5.2"/>
<circle cx="610.2" cy="180.7" r="5.2"/>
<circle cx="634.0" cy="180.7" r="5.2"/>
<circle cx="594.1" cy="184.7" r="5.2"/>
<circle cx="591.0" cy="188.5" r="5.2"/>
<circle cx="628.9" cy="186.3" r="5.2"/>
<circle cx="646.1" cy="182.7" r="5.2"/>
<circle cx="656.4" cy="181.4" r="5.2"/>
<circle cx="667.1" cy="178.4" r="5.2"/>
<circle cx="605.9" cy="192.8" r="5.2"/>
<circle cx="600.8" cy="194.1" r="5.2"/>
<circle cx="602.8" cy="195.9" r="5.2"/>
<circle cx="591.8" cy="199.5" r="5.2"/>
<circle cx="598.1" cy="199.9" r="5.2"/>
</g>
<polygon points="573.9,156.3 577.2,156.0 580.6,155.7 583.9,155.4 587.2,155.1 590.6,154.7 593.9,154.1 597.2,153.4 600.6,152.7 603.9,151.9 607.2,150.9 610.6,149.7 613.9,148.4 617.2,147.1 620.6,145.7 623.9,144.2 627.2,142.6 630.5,141.0 633.9,139.3 637.2,137.7 640.5,136.0 643.9,134.3 647.2,132.5 650.5,130.6 653.9,128.5 657.2,126.4 660.5,124.2 663.9,121.8 667.2,119.2 670.5,116.4 673.9,113.5 677.2,110.4 680.5,107.0 683.9,103.5 687.2,99.8 690.5,96.1 693.9,92.3 697.2,88.6 700.5,84.9 703.9,81.4 707.2,78.3 710.5,75.4 713.9,72.8 717.2,70.3 720.5,67.9 723.8,65.7 727.2,63.5 730.5,61.5 733.8,59.5 737.2,57.7 740.5,55.9 743.8,54.1 747.2,52.4 750.5,50.8 753.8,49.2 757.2,47.4 760.5,45.7 763.8,44.1 767.2,42.4 770.5,40.9 770.5,60.9 767.2,60.2 763.8,59.6 760.5,59.5 757.2,59.7 753.8,60.0 750.5,60.9 747.2,62.1 743.8,63.5 740.5,65.0 737.2,66.9 733.8,68.9 730.5,71.1 727.2,73.4 723.8,75.8 720.5,78.5 717.2,81.2 713.9,84.1 710.5,87.2 707.2,90.4 703.9,93.7 700.5,96.9 697.2,100.2 693.9,103.6 690.5,107.1 687.2,110.5 683.9,113.8 680.5,116.9 677.2,119.8 673.9,122.6 670.5,125.1 667.2,127.5 663.9,129.7 660.5,131.9 657.2,134.0 653.9,136.0 650.5,137.8 647.2,139.6 643.9,141.4 640.5,143.1 637.2,144.9 633.9,146.6 630.5,148.3 627.2,150.0 623.9,151.7 620.6,153.5 617.2,155.3 613.9,157.0 610.6,158.6 607.2,160.1 603.9,161.5 600.6,163.1 597.2,164.5 593.9,165.9 590.6,167.2 587.2,168.7 583.9,170.3 580.6,171.8 577.2,173.4 573.9,174.9" fill="#d0d0bb" fill-opacity="0.85"/>
<circle cx="754.7" cy="27.4" r="1.85" fill="#0000d8"/>
<circle cx="736.6" cy="28.7" r="1.85" fill="#0000d8"/>
<circle cx="742.4" cy="31.4" r="1.85" fill="#0000d8"/>
<circle cx="709.4" cy="36.5" r="1.85" fill="#0000d8"/>
<circle cx="735.3" cy="38.8" r="1.85" fill="#0000d8"/>
<circle cx="722.1" cy="42.8" r="1.85" fill="#0000d8"/>
<circle cx="743.0" cy="40.1" r="1.85" fill="#0000d8"/>
<circle cx="746.0" cy="40.5" r="1.85" fill="#0000d8"/>
<circle cx="748.0" cy="39.4" r="1.85" fill="#0000d8"/>
<circle cx="750.3" cy="38.4" r="1.85" fill="#0000d8"/>
<circle cx="752.4" cy="40.1" r="1.85" fill="#0000d8"/>
<circle cx="748.0" cy="44.1" r="1.85" fill="#0000d8"/>
<circle cx="744.0" cy="45.9" r="1.85" fill="#0000d8"/>
<circle cx="753.1" cy="45.9" r="1.85" fill="#0000d8"/>
<circle cx="760.3" cy="42.8" r="1.85" fill="#0000d8"/>
<circle cx="767.4" cy="40.1" r="1.85" fill="#0000d8"/>
<circle cx="731.2" cy="46.4" r="1.85" fill="#0000d8"/>
<circle cx="731.2" cy="49.1" r="1.85" fill="#0000d8"/>
<circle cx="762.3" cy="48.8" r="1.85" fill="#0000d8"/>
<circle cx="740.6" cy="49.9" r="1.85" fill="#0000d8"/>
<circle cx="753.1" cy="49.9" r="1.85" fill="#0000d8"/>
<circle cx="699.8" cy="51.5" r="1.85" fill="#0000d8"/>
<circle cx="703.4" cy="52.0" r="1.85" fill="#0000d8"/>
<circle cx="680.6" cy="51.8" r="1.85" fill="#0000d8"/>
<circle cx="692.1" cy="52.0" r="1.85" fill="#0000d8"/>
<circle cx="692.1" cy="55.8" r="1.85" fill="#0000d8"/>
<circle cx="692.1" cy="61.4" r="1.85" fill="#0000d8"/>
<circle cx="691.1" cy="63.8" r="1.85" fill="#0000d8"/>
<circle cx="693.8" cy="65.1" r="1.85" fill="#0000d8"/>
<circle cx="689.7" cy="68.1" r="1.85" fill="#0000d8"/>
<circle cx="699.8" cy="60.7" r="1.85" fill="#0000d8"/>
<circle cx="702.5" cy="64.7" r="1.85" fill="#0000d8"/>
<circle cx="702.5" cy="67.4" r="1.85" fill="#0000d8"/>
<circle cx="677.7" cy="65.4" r="1.85" fill="#0000d8"/>
<circle cx="685.0" cy="65.4" r="1.85" fill="#0000d8"/>
<circle cx="710.9" cy="57.6" r="1.85" fill="#0000d8"/>
<circle cx="712.5" cy="60.7" r="1.85" fill="#0000d8"/>
<circle cx="712.9" cy="65.7" r="1.85" fill="#0000d8"/>
<circle cx="718.5" cy="60.0" r="1.85" fill="#0000d8"/>
<circle cx="719.9" cy="70.1" r="1.85" fill="#0000d8"/>
<circle cx="752.0" cy="68.1" r="1.85" fill="#0000d8"/>
<circle cx="754.0" cy="70.1" r="1.85" fill="#0000d8"/>
<circle cx="765.4" cy="66.1" r="1.85" fill="#0000d8"/>
<circle cx="721.6" cy="54.2" r="1.85" fill="#0000d8"/>
<circle cx="745.9" cy="51.5" r="1.85" fill="#0000d8"/>
<circle cx="734.9" cy="52.7" r="1.85" fill="#0000d8"/>
<circle cx="730.6" cy="54.2" r="1.85" fill="#0000d8"/>
<circle cx="733.7" cy="55.4" r="1.85" fill="#0000d8"/>
<circle cx="727.1" cy="56.2" r="1.85" fill="#0000d8"/>
<circle cx="727.8" cy="58.9" r="1.85" fill="#0000d8"/>
<circle cx="736.1" cy="59.3" r="1.85" fill="#0000d8"/>
<circle cx="747.1" cy="57.0" r="1.85" fill="#0000d8"/>
<circle cx="745.1" cy="58.9" r="1.85" fill="#0000d8"/>
<circle cx="747.5" cy="60.1" r="1.85" fill="#0000d8"/>
<circle cx="755.3" cy="56.2" r="1.85" fill="#0000d8"/>
<circle cx="753.7" cy="58.9" r="1.85" fill="#0000d8"/>
<circle cx="760.4" cy="52.3" r="1.85" fill="#0000d8"/>
<circle cx="762.8" cy="53.5" r="1.85" fill="#0000d8"/>
<circle cx="766.7" cy="52.3" r="1.85" fill="#0000d8"/>
<circle cx="769.4" cy="53.8" r="1.85" fill="#0000d8"/>
<circle cx="765.1" cy="54.6" r="1.85" fill="#0000d8"/>
<circle cx="761.6" cy="57.0" r="1.85" fill="#0000d8"/>
<circle cx="760.0" cy="60.1" r="1.85" fill="#0000d8"/>
<circle cx="762.8" cy="60.5" r="1.85" fill="#0000d8"/>
<circle cx="766.3" cy="60.9" r="1.85" fill="#0000d8"/>
<circle cx="771.0" cy="61.7" r="1.85" fill="#0000d8"/>
<circle cx="727.8" cy="63.6" r="1.85" fill="#0000d8"/>
<circle cx="731.8" cy="64.0" r="1.85" fill="#0000d8"/>
<circle cx="736.9" cy="62.9" r="1.85" fill="#0000d8"/>
<circle cx="739.6" cy="64.4" r="1.85" fill="#0000d8"/>
<circle cx="747.5" cy="64.0" r="1.85" fill="#0000d8"/>
<circle cx="751.4" cy="64.4" r="1.85" fill="#0000d8"/>
<circle cx="765.1" cy="64.8" r="1.85" fill="#0000d8"/>
<circle cx="680.0" cy="90.3" r="1.85" fill="#0000d8"/>
<circle cx="711.4" cy="94.1" r="1.85" fill="#0000d8"/>
<circle cx="677.0" cy="99.4" r="1.85" fill="#0000d8"/>
<circle cx="681.3" cy="102.5" r="1.85" fill="#0000d8"/>
<circle cx="679.0" cy="108.1" r="1.85" fill="#0000d8"/>
<circle cx="679.0" cy="115.4" r="1.85" fill="#0000d8"/>
<circle cx="704.2" cy="114.4" r="1.85" fill="#0000d8"/>
<circle cx="697.8" cy="115.4" r="1.85" fill="#0000d8"/>
<circle cx="675.7" cy="121.4" r="1.85" fill="#0000d8"/>
<circle cx="697.1" cy="122.5" r="1.85" fill="#0000d8"/>
<circle cx="721.5" cy="123.4" r="1.85" fill="#0000d8"/>
<circle cx="697.8" cy="127.0" r="1.85" fill="#0000d8"/>
<circle cx="683.3" cy="127.8" r="1.85" fill="#0000d8"/>
<circle cx="710.8" cy="129.0" r="1.85" fill="#0000d8"/>
<circle cx="677.7" cy="130.5" r="1.85" fill="#0000d8"/>
<circle cx="702.2" cy="131.8" r="1.85" fill="#0000d8"/>
<circle cx="699.1" cy="135.5" r="1.85" fill="#0000d8"/>
<circle cx="702.2" cy="135.9" r="1.85" fill="#0000d8"/>
<circle cx="685.5" cy="135.7" r="1.85" fill="#0000d8"/>
<circle cx="678.4" cy="137.2" r="1.85" fill="#0000d8"/>
<circle cx="676.3" cy="139.5" r="1.85" fill="#0000d8"/>
<circle cx="717.9" cy="140.9" r="1.85" fill="#0000d8"/>
<circle cx="680.6" cy="147.6" r="1.85" fill="#0000d8"/>
<circle cx="683.4" cy="149.1" r="1.85" fill="#0000d8"/>
<circle cx="695.5" cy="147.1" r="1.85" fill="#0000d8"/>
<circle cx="675.4" cy="155.0" r="1.85" fill="#0000d8"/>
<circle cx="697.1" cy="171.3" r="1.85" fill="#0000d8"/>
<circle cx="695.5" cy="195.1" r="1.85" fill="#0000d8"/>
<circle cx="656.8" cy="68.8" r="1.85" fill="#0000d8"/>
<circle cx="672.5" cy="71.0" r="1.85" fill="#0000d8"/>
<circle cx="674.5" cy="63.0" r="1.85" fill="#0000d8"/>
<circle cx="637.0" cy="90.3" r="1.85" fill="#0000d8"/>
<circle cx="657.7" cy="88.0" r="1.85" fill="#0000d8"/>
<circle cx="659.5" cy="88.0" r="1.85" fill="#0000d8"/>
<circle cx="654.0" cy="91.1" r="1.85" fill="#0000d8"/>
<circle cx="670.7" cy="89.8" r="1.85" fill="#0000d8"/>
<circle cx="655.5" cy="95.4" r="1.85" fill="#0000d8"/>
<circle cx="640.6" cy="95.8" r="1.85" fill="#0000d8"/>
<circle cx="631.6" cy="97.7" r="1.85" fill="#0000d8"/>
<circle cx="635.6" cy="99.7" r="1.85" fill="#0000d8"/>
<circle cx="638.3" cy="99.7" r="1.85" fill="#0000d8"/>
<circle cx="664.8" cy="99.4" r="1.85" fill="#0000d8"/>
<circle cx="669.1" cy="101.2" r="1.85" fill="#0000d8"/>
<circle cx="662.4" cy="104.8" r="1.85" fill="#0000d8"/>
<circle cx="652.6" cy="105.5" r="1.85" fill="#0000d8"/>
<circle cx="641.2" cy="106.1" r="1.85" fill="#0000d8"/>
<circle cx="623.2" cy="108.4" r="1.85" fill="#0000d8"/>
<circle cx="615.9" cy="114.0" r="1.85" fill="#0000d8"/>
<circle cx="629.6" cy="118.0" r="1.85" fill="#0000d8"/>
<circle cx="624.6" cy="119.8" r="1.85" fill="#0000d8"/>
<circle cx="618.9" cy="120.3" r="1.85" fill="#0000d8"/>
<circle cx="613.1" cy="119.8" r="1.85" fill="#0000d8"/>
<circle cx="612.3" cy="121.0" r="1.85" fill="#0000d8"/>
<circle cx="602.4" cy="124.1" r="1.85" fill="#0000d8"/>
<circle cx="642.0" cy="120.3" r="1.85" fill="#0000d8"/>
<circle cx="643.4" cy="122.7" r="1.85" fill="#0000d8"/>
<circle cx="644.7" cy="124.3" r="1.85" fill="#0000d8"/>
<circle cx="634.0" cy="124.3" r="1.85" fill="#0000d8"/>
<circle cx="636.3" cy="125.8" r="1.85" fill="#0000d8"/>
<circle cx="628.9" cy="126.8" r="1.85" fill="#0000d8"/>
<circle cx="610.9" cy="125.7" r="1.85" fill="#0000d8"/>
<circle cx="612.9" cy="127.8" r="1.85" fill="#0000d8"/>
<circle cx="614.9" cy="130.1" r="1.85" fill="#0000d8"/>
<circle cx="617.1" cy="132.1" r="1.85" fill="#0000d8"/>
<circle cx="621.6" cy="126.8" r="1.85" fill="#0000d8"/>
<circle cx="619.8" cy="128.8" r="1.85" fill="#0000d8"/>
<circle cx="604.5" cy="129.4" r="1.85" fill="#0000d8"/>
<circle cx="603.5" cy="131.8" r="1.85" fill="#0000d8"/>
<circle cx="633.2" cy="130.1" r="1.85" fill="#0000d8"/>
<circle cx="631.9" cy="133.4" r="1.85" fill="#0000d8"/>
<circle cx="630.9" cy="136.1" r="1.85" fill="#0000d8"/>
<circle cx="641.0" cy="130.5" r="1.85" fill="#0000d8"/>
<circle cx="663.5" cy="121.1" r="1.85" fill="#0000d8"/>
<circle cx="659.7" cy="124.3" r="1.85" fill="#0000d8"/>
<circle cx="653.7" cy="128.8" r="1.85" fill="#0000d8"/>
<circle cx="673.8" cy="114.0" r="1.85" fill="#0000d8"/>
<circle cx="670.5" cy="121.4" r="1.85" fill="#0000d8"/>
<circle cx="668.4" cy="129.2" r="1.85" fill="#0000d8"/>
<circle cx="669.8" cy="132.1" r="1.85" fill="#0000d8"/>
<circle cx="673.1" cy="134.8" r="1.85" fill="#0000d8"/>
<circle cx="657.7" cy="132.1" r="1.85" fill="#0000d8"/>
<circle cx="655.0" cy="134.8" r="1.85" fill="#0000d8"/>
<circle cx="653.0" cy="136.1" r="1.85" fill="#0000d8"/>
<circle cx="645.0" cy="133.4" r="1.85" fill="#0000d8"/>
<circle cx="643.0" cy="136.1" r="1.85" fill="#0000d8"/>
<circle cx="638.3" cy="136.8" r="1.85" fill="#0000d8"/>
<circle cx="588.8" cy="137.2" r="1.85" fill="#0000d8"/>
<circle cx="576.0" cy="139.9" r="1.85" fill="#0000d8"/>
<circle cx="576.0" cy="140.0" r="1.85" fill="#0000d8"/>
<circle cx="578.7" cy="140.7" r="1.85" fill="#0000d8"/>
<circle cx="596.1" cy="140.4" r="1.85" fill="#0000d8"/>
<circle cx="604.5" cy="140.4" r="1.85" fill="#0000d8"/>
<circle cx="613.1" cy="140.9" r="1.85" fill="#0000d8"/>
<circle cx="578.0" cy="145.4" r="1.85" fill="#0000d8"/>
<circle cx="596.5" cy="146.3" r="1.85" fill="#0000d8"/>
<circle cx="596.5" cy="149.0" r="1.85" fill="#0000d8"/>
<circle cx="620.9" cy="144.0" r="1.85" fill="#0000d8"/>
<circle cx="586.7" cy="151.1" r="1.85" fill="#0000d8"/>
<circle cx="605.9" cy="152.5" r="1.85" fill="#0000d8"/>
<circle cx="613.3" cy="150.7" r="1.85" fill="#0000d8"/>
<circle cx="620.6" cy="149.8" r="1.85" fill="#0000d8"/>
<circle cx="634.3" cy="142.0" r="1.85" fill="#0000d8"/>
<circle cx="633.6" cy="147.6" r="1.85" fill="#0000d8"/>
<circle cx="636.3" cy="146.0" r="1.85" fill="#0000d8"/>
<circle cx="640.3" cy="144.0" r="1.85" fill="#0000d8"/>
<circle cx="644.3" cy="146.0" r="1.85" fill="#0000d8"/>
<circle cx="647.0" cy="142.0" r="1.85" fill="#0000d8"/>
<circle cx="648.4" cy="145.4" r="1.85" fill="#0000d8"/>
<circle cx="654.0" cy="140.4" r="1.85" fill="#0000d8"/>
<circle cx="661.7" cy="140.0" r="1.85" fill="#0000d8"/>
<circle cx="662.4" cy="142.0" r="1.85" fill="#0000d8"/>
<circle cx="669.8" cy="145.4" r="1.85" fill="#0000d8"/>
<circle cx="673.1" cy="146.3" r="1.85" fill="#0000d8"/>
<circle cx="652.0" cy="151.1" r="1.85" fill="#0000d8"/>
<circle cx="654.1" cy="153.4" r="1.85" fill="#0000d8"/>
<circle cx="660.8" cy="150.7" r="1.85" fill="#0000d8"/>
<circle cx="664.8" cy="150.7" r="1.85" fill="#0000d8"/>
<circle cx="674.5" cy="154.7" r="1.85" fill="#0000d8"/>
<circle cx="628.9" cy="152.5" r="1.85" fill="#0000d8"/>
<circle cx="624.0" cy="154.3" r="1.85" fill="#0000d8"/>
<circle cx="635.9" cy="155.1" r="1.85" fill="#0000d8"/>
<circle cx="636.7" cy="156.8" r="1.85" fill="#0000d8"/>
<circle cx="639.0" cy="158.8" r="1.85" fill="#0000d8"/>
<circle cx="582.7" cy="158.1" r="1.85" fill="#0000d8"/>
<circle cx="584.7" cy="159.2" r="1.85" fill="#0000d8"/>
<circle cx="577.4" cy="161.4" r="1.85" fill="#0000d8"/>
<circle cx="574.0" cy="164.1" r="1.85" fill="#0000d8"/>
<circle cx="589.4" cy="162.1" r="1.85" fill="#0000d8"/>
<circle cx="593.8" cy="160.8" r="1.85" fill="#0000d8"/>
<circle cx="582.3" cy="166.8" r="1.85" fill="#0000d8"/>
<circle cx="586.1" cy="165.5" r="1.85" fill="#0000d8"/>
<circle cx="601.5" cy="165.5" r="1.85" fill="#0000d8"/>
<circle cx="606.8" cy="164.1" r="1.85" fill="#0000d8"/>
<circle cx="609.5" cy="162.1" r="1.85" fill="#0000d8"/>
<circle cx="619.5" cy="162.8" r="1.85" fill="#0000d8"/>
<circle cx="619.5" cy="166.1" r="1.85" fill="#0000d8"/>
<circle cx="629.6" cy="162.1" r="1.85" fill="#0000d8"/>
<circle cx="632.3" cy="161.4" r="1.85" fill="#0000d8"/>
<circle cx="633.6" cy="164.1" r="1.85" fill="#0000d8"/>
<circle cx="635.0" cy="162.8" r="1.85" fill="#0000d8"/>
<circle cx="632.3" cy="164.8" r="1.85" fill="#0000d8"/>
<circle cx="643.0" cy="162.1" r="1.85" fill="#0000d8"/>
<circle cx="644.3" cy="164.1" r="1.85" fill="#0000d8"/>
<circle cx="650.4" cy="167.7" r="1.85" fill="#0000d8"/>
<circle cx="593.8" cy="170.4" r="1.85" fill="#0000d8"/>
<circle cx="591.2" cy="173.1" r="1.85" fill="#0000d8"/>
<circle cx="612.6" cy="170.4" r="1.85" fill="#0000d8"/>
<circle cx="610.5" cy="173.4" r="1.85" fill="#0000d8"/>
<circle cx="630.9" cy="170.0" r="1.85" fill="#0000d8"/>
<circle cx="635.6" cy="169.6" r="1.85" fill="#0000d8"/>
<circle cx="576.7" cy="175.0" r="1.85" fill="#0000d8"/>
<circle cx="598.1" cy="176.3" r="1.85" fill="#0000d8"/>
<circle cx="615.3" cy="177.1" r="1.85" fill="#0000d8"/>
<circle cx="622.5" cy="176.3" r="1.85" fill="#0000d8"/>
<circle cx="629.9" cy="174.0" r="1.85" fill="#0000d8"/>
<circle cx="640.3" cy="174.0" r="1.85" fill="#0000d8"/>
<circle cx="650.4" cy="173.4" r="1.85" fill="#0000d8"/>
<circle cx="636.7" cy="177.1" r="1.85" fill="#0000d8"/>
<circle cx="583.8" cy="180.7" r="1.85" fill="#0000d8"/>
<circle cx="579.6" cy="183.4" r="1.85" fill="#0000d8"/>
<circle cx="575.8" cy="187.2" r="1.85" fill="#0000d8"/>
<circle cx="589.8" cy="180.7" r="1.85" fill="#0000d8"/>
<circle cx="598.1" cy="180.7" r="1.85" fill="#0000d8"/>
<circle cx="610.2" cy="180.7" r="1.85" fill="#0000d8"/>
<circle cx="634.0" cy="180.7" r="1.85" fill="#0000d8"/>
<circle cx="594.1" cy="184.7" r="1.85" fill="#0000d8"/>
<circle cx="591.0" cy="188.5" r="1.85" fill="#0000d8"/>
<circle cx="628.9" cy="186.3" r="1.85" fill="#0000d8"/>
<circle cx="646.1" cy="182.7" r="1.85" fill="#0000d8"/>
<circle cx="656.4" cy="181.4" r="1.85" fill="#0000d8"/>
<circle cx="667.1" cy="178.4" r="1.85" fill="#0000d8"/>
<circle cx="605.9" cy="192.8" r="1.85" fill="#0000d8"/>
<circle cx="600.8" cy="194.1" r="1.85" fill="#0000d8"/>
<circle cx="602.8" cy="195.9" r="1.85" fill="#0000d8"/>
<circle cx="591.8" cy="199.5" r="1.85" fill="#0000d8"/>
<circle cx="598.1" cy="199.9" r="1.85" fill="#0000d8"/>
<line x1="560.4" y1="223.90" x2="780.6" y2="4.20" stroke="#2a2a2a" stroke-width="0.85"/>
<polyline points="573.9,165.6 577.2,164.7 580.6,163.7 583.9,162.8 587.2,161.9 590.6,161.0 593.9,160.0 597.2,159.0 600.6,157.9 603.9,156.7 607.2,155.5 610.6,154.1 613.9,152.7 617.2,151.2 620.6,149.6 623.9,148.0 627.2,146.3 630.5,144.6 633.9,143.0 637.2,141.3 640.5,139.6 643.9,137.8 647.2,136.0 650.5,134.2 653.9,132.2 657.2,130.2 660.5,128.1 663.9,125.8 667.2,123.4 670.5,120.8 673.9,118.0 677.2,115.1 680.5,112.0 683.9,108.6 687.2,105.1 690.5,101.6 693.9,98.0 697.2,94.4 700.5,90.9 703.9,87.5 707.2,84.3 710.5,81.3 713.9,78.5 717.2,75.8 720.5,73.2 723.8,70.8 727.2,68.5 730.5,66.3 733.8,64.2 737.2,62.3 740.5,60.5 743.8,58.8 747.2,57.2 750.5,55.9 753.8,54.6 757.2,53.5 760.5,52.6 763.8,51.9 767.2,51.3 770.5,50.9" fill="none" stroke="#0000d8" stroke-width="1.4"/>
</g>
<path d="M574.50 223.6v3M560.4 210.10h-3" stroke="#333" stroke-width="0.9" fill="none"/>
<text class="tk" x="573.90" y="236.2" text-anchor="middle">200</text>
<text class="tk" x="554.9" y="214.40" text-anchor="end">200</text>
<path d="M646.80 223.6v3M560.4 137.60h-3" stroke="#333" stroke-width="0.9" fill="none"/>
<text class="tk" x="646.20" y="236.2" text-anchor="middle">400</text>
<text class="tk" x="554.9" y="141.90" text-anchor="end">400</text>
<path d="M719.10 223.6v3M560.4 65.10h-3" stroke="#333" stroke-width="0.9" fill="none"/>
<text class="tk" x="718.50" y="236.2" text-anchor="middle">600</text>
<text class="tk" x="554.9" y="69.40" text-anchor="end">600</text>
<text class="ti" x="670.50" y="249.7" text-anchor="middle">Chl measured by MC 100</text>
<text class="ti" transform="translate(536.90 113.80) rotate(-90)" text-anchor="middle">Chl fitted by MCARI index</text>
</svg></body></html>
